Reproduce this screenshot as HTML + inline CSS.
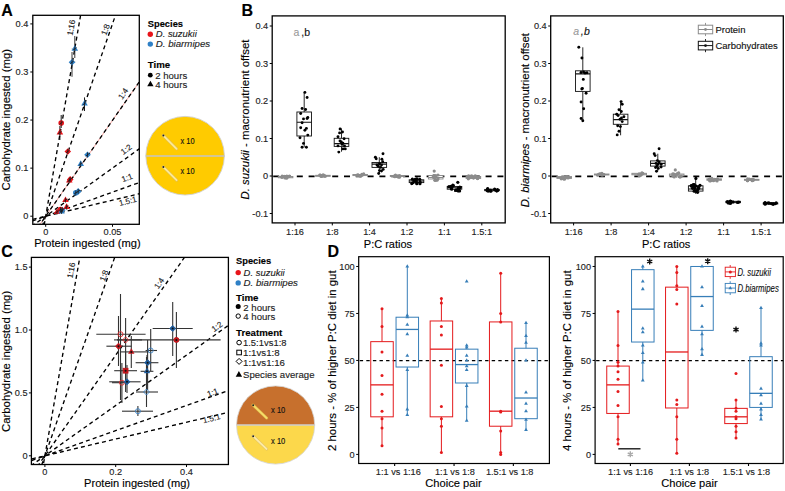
<!DOCTYPE html>
<html><head><meta charset="utf-8"><style>
html,body{margin:0;padding:0;background:#fff;width:785px;height:491px;overflow:hidden}
svg{display:block}
text{font-family:"Liberation Sans", sans-serif}
</style></head><body>
<svg width="785" height="491" viewBox="0 0 785 491">
<rect x="0" y="0" width="785" height="491" fill="#fff"/>
<text x="1.30" y="15.90" font-size="16" text-anchor="start" font-weight="bold" fill="#000" stroke="#000" stroke-width="0.13">A</text>
<clipPath id="clipA"><rect x="32.8" y="15.3" width="106.50000000000001" height="209.0"/></clipPath>
<g clip-path="url(#clipA)">
<line x1="25.70" y1="331.40" x2="245.70" y2="-935.80" stroke="#000" stroke-width="1.35" stroke-dasharray="4,3.2"/>
<line x1="25.70" y1="273.80" x2="245.70" y2="-359.80" stroke="#000" stroke-width="1.35" stroke-dasharray="4,3.2"/>
<line x1="25.70" y1="244.90" x2="245.70" y2="-70.80" stroke="#F08C86" stroke-width="0.8"/>
<line x1="25.70" y1="244.90" x2="245.70" y2="-70.80" stroke="#000" stroke-width="1.35" stroke-dasharray="4,3.2"/>
<line x1="25.70" y1="230.60" x2="245.70" y2="72.20" stroke="#000" stroke-width="1.35" stroke-dasharray="4,3.2"/>
<line x1="25.70" y1="223.40" x2="245.70" y2="144.20" stroke="#000" stroke-width="1.35" stroke-dasharray="4,3.2"/>
<line x1="25.70" y1="221.00" x2="245.70" y2="168.20" stroke="#000" stroke-width="1.35" stroke-dasharray="4,3.2"/>
</g>
<rect x="32.80" y="15.30" width="106.50" height="209.00" fill="none" stroke="#000" stroke-width="1.3"/>
<line x1="30.30" y1="216.20" x2="32.80" y2="216.20" stroke="#000" stroke-width="1"/>
<text x="28.30" y="219.40" font-size="9.2" text-anchor="end" fill="#222" stroke="#222" stroke-width="0.13">0</text>
<line x1="30.30" y1="168.13" x2="32.80" y2="168.13" stroke="#000" stroke-width="1"/>
<text x="28.30" y="171.33" font-size="9.2" text-anchor="end" fill="#222" stroke="#222" stroke-width="0.13">0.1</text>
<line x1="30.30" y1="120.06" x2="32.80" y2="120.06" stroke="#000" stroke-width="1"/>
<text x="28.30" y="123.26" font-size="9.2" text-anchor="end" fill="#222" stroke="#222" stroke-width="0.13">0.2</text>
<line x1="30.30" y1="71.99" x2="32.80" y2="71.99" stroke="#000" stroke-width="1"/>
<text x="28.30" y="75.19" font-size="9.2" text-anchor="end" fill="#222" stroke="#222" stroke-width="0.13">0.3</text>
<line x1="30.30" y1="23.92" x2="32.80" y2="23.92" stroke="#000" stroke-width="1"/>
<text x="28.30" y="27.12" font-size="9.2" text-anchor="end" fill="#222" stroke="#222" stroke-width="0.13">0.4</text>
<line x1="45.70" y1="224.30" x2="45.70" y2="226.80" stroke="#000" stroke-width="1"/>
<text x="45.70" y="234.80" font-size="9.2" text-anchor="middle" fill="#222" stroke="#222" stroke-width="0.13">0</text>
<line x1="112.50" y1="224.30" x2="112.50" y2="226.80" stroke="#000" stroke-width="1"/>
<text x="112.50" y="234.80" font-size="9.2" text-anchor="middle" fill="#222" stroke="#222" stroke-width="0.13">0.05</text>
<text x="34.20" y="247.30" font-size="11.1" text-anchor="start" fill="#000" stroke="#000" stroke-width="0.13" textLength="106.4" lengthAdjust="spacingAndGlyphs">Protein ingested (mg)</text>
<text x="10.30" y="190.50" font-size="11.4" text-anchor="start" fill="#000" stroke="#000" stroke-width="0.13" transform="rotate(-90 10.3 190.5)" textLength="141.5" lengthAdjust="spacingAndGlyphs">Carbohydrate ingested (mg)</text>
<text transform="translate(71.10 27.60) rotate(-80)" x="0" y="2.92" font-size="8.1" text-anchor="middle" fill="#222" stroke="#222" stroke-width="0.13">1:16</text>
<text transform="translate(105.40 29.60) rotate(-71)" x="0" y="2.92" font-size="8.1" text-anchor="middle" fill="#222" stroke="#222" stroke-width="0.13">1:8</text>
<text transform="translate(123.00 93.60) rotate(-55)" x="0" y="2.92" font-size="8.1" text-anchor="middle" fill="#222" stroke="#222" stroke-width="0.13">1:4</text>
<text transform="translate(126.20 149.30) rotate(-36)" x="0" y="2.92" font-size="8.1" text-anchor="middle" fill="#222" stroke="#222" stroke-width="0.13">1:2</text>
<text transform="translate(127.00 177.70) rotate(-20)" x="0" y="2.92" font-size="8.1" text-anchor="middle" fill="#222" stroke="#222" stroke-width="0.13">1:1</text>
<text transform="translate(127.80 201.00) rotate(-14)" x="0" y="2.92" font-size="8.1" text-anchor="middle" fill="#222" stroke="#222" stroke-width="0.13">1.5:1</text>
<line x1="72.00" y1="52.00" x2="72.00" y2="76.80" stroke="#222" stroke-width="0.9"/>
<line x1="74.80" y1="36.00" x2="74.80" y2="58.00" stroke="#222" stroke-width="0.9"/>
<line x1="71.70" y1="49.00" x2="75.30" y2="49.00" stroke="#777" stroke-width="0.8"/>
<line x1="71.70" y1="62.00" x2="75.30" y2="62.00" stroke="#777" stroke-width="0.8"/>
<line x1="84.50" y1="97.40" x2="84.50" y2="111.00" stroke="#000" stroke-width="0.9"/>
<line x1="61.20" y1="115.00" x2="61.20" y2="128.00" stroke="#000" stroke-width="0.9"/>
<line x1="59.90" y1="126.00" x2="59.90" y2="140.00" stroke="#000" stroke-width="0.9"/>
<path d="M71.50,50.71 L78.10,50.71 L74.80,44.99 Z" fill="#2F80C6" stroke="none" stroke-width="1"/>
<path d="M72.00,59.00 L75.30,62.30 L72.00,65.60 L68.70,62.30 Z" fill="#2F80C6" stroke="none" stroke-width="1"/>
<path d="M81.20,105.61 L87.80,105.61 L84.50,99.89 Z" fill="#2F80C6" stroke="none" stroke-width="1"/>
<circle cx="61.20" cy="123.00" r="2.8" fill="#E8141A" stroke="none" stroke-width="1"/>
<path d="M56.60,134.51 L63.20,134.51 L59.90,128.79 Z" fill="#E8141A" stroke="none" stroke-width="1"/>
<path d="M67.80,148.20 L71.10,151.50 L67.80,154.80 L64.50,151.50 Z" fill="#E8141A" stroke="none" stroke-width="1"/>
<path d="M70.20,176.10 L73.50,179.40 L70.20,182.70 L66.90,179.40 Z" fill="#E8141A" stroke="none" stroke-width="1"/>
<path d="M66.00,182.41 L72.60,182.41 L69.30,176.69 Z" fill="#E8141A" stroke="none" stroke-width="1"/>
<path d="M87.50,151.50 L90.80,154.80 L87.50,158.10 L84.20,154.80 Z" fill="#2F80C6" stroke="none" stroke-width="1"/>
<path d="M77.40,165.91 L84.00,165.91 L80.70,160.19 Z" fill="#2F80C6" stroke="none" stroke-width="1"/>
<path d="M62.20,202.11 L68.80,202.11 L65.50,196.39 Z" fill="#E8141A" stroke="none" stroke-width="1"/>
<path d="M78.20,188.10 L81.50,191.40 L78.20,194.70 L74.90,191.40 Z" fill="#2F80C6" stroke="none" stroke-width="1"/>
<circle cx="75.80" cy="192.80" r="2.8" fill="#2F80C6" stroke="none" stroke-width="1"/>
<path d="M53.70,213.91 L60.30,213.91 L57.00,208.19 Z" fill="#E8141A" stroke="none" stroke-width="1"/>
<path d="M62.30,206.70 L65.60,210.00 L62.30,213.30 L59.00,210.00 Z" fill="#2F80C6" stroke="none" stroke-width="1"/>
<path d="M63.30,208.91 L69.90,208.91 L66.60,203.19 Z" fill="#E8141A" stroke="none" stroke-width="1"/>
<circle cx="60.50" cy="209.50" r="2.8" fill="#E8141A" stroke="none" stroke-width="1"/>
<path d="M58.20,213.41 L64.80,213.41 L61.50,207.69 Z" fill="#2F80C6" stroke="none" stroke-width="1"/>
<line x1="73.00" y1="50.10" x2="76.60" y2="47.50" stroke="#1A1A1A" stroke-width="0.8"/>
<line x1="74.80" y1="46.40" x2="74.80" y2="51.20" stroke="#1A1A1A" stroke-width="0.8"/>
<line x1="70.20" y1="63.60" x2="73.80" y2="61.00" stroke="#1A1A1A" stroke-width="0.8"/>
<line x1="72.00" y1="59.90" x2="72.00" y2="64.70" stroke="#1A1A1A" stroke-width="0.8"/>
<line x1="82.70" y1="105.00" x2="86.30" y2="102.40" stroke="#1A1A1A" stroke-width="0.8"/>
<line x1="84.50" y1="101.30" x2="84.50" y2="106.10" stroke="#1A1A1A" stroke-width="0.8"/>
<line x1="59.40" y1="124.30" x2="63.00" y2="121.70" stroke="#1A1A1A" stroke-width="0.8"/>
<line x1="61.20" y1="120.60" x2="61.20" y2="125.40" stroke="#1A1A1A" stroke-width="0.8"/>
<line x1="58.10" y1="133.90" x2="61.70" y2="131.30" stroke="#1A1A1A" stroke-width="0.8"/>
<line x1="59.90" y1="130.20" x2="59.90" y2="135.00" stroke="#1A1A1A" stroke-width="0.8"/>
<line x1="66.00" y1="152.80" x2="69.60" y2="150.20" stroke="#1A1A1A" stroke-width="0.8"/>
<line x1="67.80" y1="149.10" x2="67.80" y2="153.90" stroke="#1A1A1A" stroke-width="0.8"/>
<line x1="68.40" y1="180.70" x2="72.00" y2="178.10" stroke="#1A1A1A" stroke-width="0.8"/>
<line x1="70.20" y1="177.00" x2="70.20" y2="181.80" stroke="#1A1A1A" stroke-width="0.8"/>
<line x1="67.50" y1="181.80" x2="71.10" y2="179.20" stroke="#1A1A1A" stroke-width="0.8"/>
<line x1="69.30" y1="178.10" x2="69.30" y2="182.90" stroke="#1A1A1A" stroke-width="0.8"/>
<line x1="85.70" y1="156.10" x2="89.30" y2="153.50" stroke="#1A1A1A" stroke-width="0.8"/>
<line x1="87.50" y1="152.40" x2="87.50" y2="157.20" stroke="#1A1A1A" stroke-width="0.8"/>
<line x1="78.90" y1="165.30" x2="82.50" y2="162.70" stroke="#1A1A1A" stroke-width="0.8"/>
<line x1="80.70" y1="161.60" x2="80.70" y2="166.40" stroke="#1A1A1A" stroke-width="0.8"/>
<line x1="63.70" y1="201.50" x2="67.30" y2="198.90" stroke="#1A1A1A" stroke-width="0.8"/>
<line x1="65.50" y1="197.80" x2="65.50" y2="202.60" stroke="#1A1A1A" stroke-width="0.8"/>
<line x1="76.40" y1="192.70" x2="80.00" y2="190.10" stroke="#1A1A1A" stroke-width="0.8"/>
<line x1="78.20" y1="189.00" x2="78.20" y2="193.80" stroke="#1A1A1A" stroke-width="0.8"/>
<line x1="74.00" y1="194.10" x2="77.60" y2="191.50" stroke="#1A1A1A" stroke-width="0.8"/>
<line x1="75.80" y1="190.40" x2="75.80" y2="195.20" stroke="#1A1A1A" stroke-width="0.8"/>
<line x1="55.20" y1="213.30" x2="58.80" y2="210.70" stroke="#1A1A1A" stroke-width="0.8"/>
<line x1="57.00" y1="209.60" x2="57.00" y2="214.40" stroke="#1A1A1A" stroke-width="0.8"/>
<line x1="60.50" y1="211.30" x2="64.10" y2="208.70" stroke="#1A1A1A" stroke-width="0.8"/>
<line x1="62.30" y1="207.60" x2="62.30" y2="212.40" stroke="#1A1A1A" stroke-width="0.8"/>
<line x1="64.80" y1="208.30" x2="68.40" y2="205.70" stroke="#1A1A1A" stroke-width="0.8"/>
<line x1="66.60" y1="204.60" x2="66.60" y2="209.40" stroke="#1A1A1A" stroke-width="0.8"/>
<line x1="58.70" y1="210.80" x2="62.30" y2="208.20" stroke="#1A1A1A" stroke-width="0.8"/>
<line x1="60.50" y1="207.10" x2="60.50" y2="211.90" stroke="#1A1A1A" stroke-width="0.8"/>
<line x1="59.70" y1="212.80" x2="63.30" y2="210.20" stroke="#1A1A1A" stroke-width="0.8"/>
<line x1="61.50" y1="209.10" x2="61.50" y2="213.90" stroke="#1A1A1A" stroke-width="0.8"/>
<text x="147.80" y="26.70" font-size="9.7" text-anchor="start" font-weight="bold" fill="#000" stroke="#000" stroke-width="0.13" textLength="35.2" lengthAdjust="spacingAndGlyphs">Species</text>
<circle cx="150.30" cy="34.20" r="2.7" fill="#E8141A" stroke="none" stroke-width="1"/>
<text x="155.80" y="37.40" font-size="9.7" text-anchor="start" font-style="italic" fill="#222" stroke="#222" stroke-width="0.13" textLength="41.0" lengthAdjust="spacingAndGlyphs">D. suzukii</text>
<circle cx="150.30" cy="44.10" r="2.7" fill="#2F80C6" stroke="none" stroke-width="1"/>
<text x="155.80" y="47.30" font-size="9.7" text-anchor="start" font-style="italic" fill="#222" stroke="#222" stroke-width="0.13">D. biarmipes</text>
<text x="147.80" y="68.30" font-size="9.7" text-anchor="start" font-weight="bold" fill="#000" stroke="#000" stroke-width="0.13">Time</text>
<circle cx="150.30" cy="75.20" r="2.4" fill="#000" stroke="none" stroke-width="1"/>
<text x="155.20" y="78.60" font-size="9.7" text-anchor="start" fill="#222" stroke="#222" stroke-width="0.13" textLength="32.0" lengthAdjust="spacingAndGlyphs">2 hours</text>
<path d="M147.25,86.22 L153.55,86.22 L150.40,80.76 Z" fill="#000" stroke="none" stroke-width="1"/>
<text x="155.20" y="87.60" font-size="9.7" text-anchor="start" fill="#222" stroke="#222" stroke-width="0.13" textLength="32.0" lengthAdjust="spacingAndGlyphs">4 hours</text>
<circle cx="185.1" cy="155.7" r="39.3" fill="#FFCB00" stroke="#D0D0D0" stroke-width="0.9"/>
<line x1="145.80" y1="156.00" x2="224.40" y2="156.00" stroke="#C4C4C4" stroke-width="1.7"/>
<line x1="163.20" y1="135.40" x2="176.60" y2="148.80" stroke="#E2BE48" stroke-width="3.0" stroke-linecap="round"/>
<line x1="163.20" y1="135.40" x2="176.60" y2="148.80" stroke="#FCEA98" stroke-width="1.8" stroke-linecap="round"/>
<circle cx="163.40" cy="135.60" r="1.0" fill="#222" stroke="none" stroke-width="1"/>
<text x="180.60" y="143.70" font-size="8.2" text-anchor="start" fill="#111" stroke="#111" stroke-width="0.13" textLength="14.0" lengthAdjust="spacingAndGlyphs">x 10</text>
<line x1="163.20" y1="166.80" x2="176.60" y2="180.20" stroke="#E2BE48" stroke-width="3.0" stroke-linecap="round"/>
<line x1="163.20" y1="166.80" x2="176.60" y2="180.20" stroke="#FCEA98" stroke-width="1.8" stroke-linecap="round"/>
<circle cx="163.40" cy="167.00" r="1.0" fill="#222" stroke="none" stroke-width="1"/>
<text x="180.60" y="174.40" font-size="8.2" text-anchor="start" fill="#111" stroke="#111" stroke-width="0.13" textLength="14.0" lengthAdjust="spacingAndGlyphs">x 10</text>
<text x="241.40" y="15.90" font-size="16" text-anchor="start" font-weight="bold" fill="#000" stroke="#000" stroke-width="0.13">B</text>
<clipPath id="clipB0"><rect x="272.2" y="15.9" width="233.0" height="207.0"/></clipPath>
<g clip-path="url(#clipB0)">
<line x1="273.20" y1="176.30" x2="505.20" y2="176.30" stroke="#000" stroke-width="1.7" stroke-dasharray="6,5.8"/>
<line x1="285.60" y1="176.00" x2="285.60" y2="176.50" stroke="#8A8A8A" stroke-width="0.9"/>
<line x1="285.60" y1="177.80" x2="285.60" y2="178.50" stroke="#8A8A8A" stroke-width="0.9"/>
<rect x="278.30" y="176.50" width="14.60" height="1.30" fill="#fff" stroke="#8A8A8A" stroke-width="0.9"/>
<line x1="278.30" y1="177.00" x2="292.90" y2="177.00" stroke="#8A8A8A" stroke-width="1.08"/>
<circle cx="284.17" cy="176.36" r="1.6" fill="#8C8C8C" stroke="none" stroke-width="1"/>
<circle cx="286.82" cy="176.17" r="1.6" fill="#8C8C8C" stroke="none" stroke-width="1"/>
<circle cx="285.89" cy="176.88" r="1.6" fill="#8C8C8C" stroke="none" stroke-width="1"/>
<circle cx="282.02" cy="177.22" r="1.6" fill="#8C8C8C" stroke="none" stroke-width="1"/>
<circle cx="281.85" cy="177.04" r="1.6" fill="#8C8C8C" stroke="none" stroke-width="1"/>
<circle cx="282.12" cy="176.22" r="1.6" fill="#8C8C8C" stroke="none" stroke-width="1"/>
<circle cx="284.99" cy="177.98" r="1.6" fill="#8C8C8C" stroke="none" stroke-width="1"/>
<circle cx="282.55" cy="176.54" r="1.6" fill="#8C8C8C" stroke="none" stroke-width="1"/>
<circle cx="286.63" cy="178.27" r="1.6" fill="#8C8C8C" stroke="none" stroke-width="1"/>
<circle cx="286.22" cy="176.95" r="1.6" fill="#8C8C8C" stroke="none" stroke-width="1"/>
<circle cx="289.46" cy="176.11" r="1.6" fill="#8C8C8C" stroke="none" stroke-width="1"/>
<circle cx="288.50" cy="176.70" r="1.6" fill="#8C8C8C" stroke="none" stroke-width="1"/>
<line x1="322.90" y1="175.00" x2="322.90" y2="175.30" stroke="#8A8A8A" stroke-width="0.9"/>
<line x1="322.90" y1="176.30" x2="322.90" y2="176.80" stroke="#8A8A8A" stroke-width="0.9"/>
<rect x="315.60" y="175.30" width="14.60" height="1.00" fill="#fff" stroke="#8A8A8A" stroke-width="0.9"/>
<line x1="315.60" y1="175.80" x2="330.20" y2="175.80" stroke="#8A8A8A" stroke-width="1.08"/>
<circle cx="320.34" cy="175.04" r="1.6" fill="#8C8C8C" stroke="none" stroke-width="1"/>
<circle cx="321.52" cy="176.43" r="1.6" fill="#8C8C8C" stroke="none" stroke-width="1"/>
<circle cx="320.60" cy="175.96" r="1.6" fill="#8C8C8C" stroke="none" stroke-width="1"/>
<circle cx="323.90" cy="175.54" r="1.6" fill="#8C8C8C" stroke="none" stroke-width="1"/>
<circle cx="323.24" cy="174.93" r="1.6" fill="#8C8C8C" stroke="none" stroke-width="1"/>
<circle cx="319.73" cy="175.21" r="1.6" fill="#8C8C8C" stroke="none" stroke-width="1"/>
<circle cx="324.20" cy="175.66" r="1.6" fill="#8C8C8C" stroke="none" stroke-width="1"/>
<circle cx="321.56" cy="175.97" r="1.6" fill="#8C8C8C" stroke="none" stroke-width="1"/>
<circle cx="322.56" cy="175.40" r="1.6" fill="#8C8C8C" stroke="none" stroke-width="1"/>
<circle cx="325.02" cy="176.20" r="1.6" fill="#8C8C8C" stroke="none" stroke-width="1"/>
<line x1="360.20" y1="174.00" x2="360.20" y2="174.50" stroke="#8A8A8A" stroke-width="0.9"/>
<line x1="360.20" y1="175.60" x2="360.20" y2="176.50" stroke="#8A8A8A" stroke-width="0.9"/>
<rect x="352.90" y="174.50" width="14.60" height="1.10" fill="#fff" stroke="#8A8A8A" stroke-width="0.9"/>
<line x1="352.90" y1="175.00" x2="367.50" y2="175.00" stroke="#8A8A8A" stroke-width="1.08"/>
<circle cx="358.36" cy="175.21" r="1.6" fill="#8C8C8C" stroke="none" stroke-width="1"/>
<circle cx="360.38" cy="176.05" r="1.6" fill="#8C8C8C" stroke="none" stroke-width="1"/>
<circle cx="361.85" cy="174.41" r="1.6" fill="#8C8C8C" stroke="none" stroke-width="1"/>
<circle cx="363.66" cy="173.93" r="1.6" fill="#8C8C8C" stroke="none" stroke-width="1"/>
<circle cx="359.61" cy="175.72" r="1.6" fill="#8C8C8C" stroke="none" stroke-width="1"/>
<circle cx="357.69" cy="174.97" r="1.6" fill="#8C8C8C" stroke="none" stroke-width="1"/>
<circle cx="356.88" cy="175.47" r="1.6" fill="#8C8C8C" stroke="none" stroke-width="1"/>
<circle cx="362.10" cy="175.20" r="1.6" fill="#8C8C8C" stroke="none" stroke-width="1"/>
<circle cx="362.90" cy="174.48" r="1.6" fill="#8C8C8C" stroke="none" stroke-width="1"/>
<circle cx="361.61" cy="175.26" r="1.6" fill="#8C8C8C" stroke="none" stroke-width="1"/>
<line x1="397.60" y1="175.00" x2="397.60" y2="175.50" stroke="#8A8A8A" stroke-width="0.9"/>
<line x1="397.60" y1="176.50" x2="397.60" y2="177.00" stroke="#8A8A8A" stroke-width="0.9"/>
<rect x="390.30" y="175.50" width="14.60" height="1.00" fill="#fff" stroke="#8A8A8A" stroke-width="0.9"/>
<line x1="390.30" y1="176.00" x2="404.90" y2="176.00" stroke="#8A8A8A" stroke-width="1.08"/>
<circle cx="398.10" cy="175.89" r="1.6" fill="#8C8C8C" stroke="none" stroke-width="1"/>
<circle cx="399.74" cy="177.07" r="1.6" fill="#8C8C8C" stroke="none" stroke-width="1"/>
<circle cx="397.44" cy="176.39" r="1.6" fill="#8C8C8C" stroke="none" stroke-width="1"/>
<circle cx="394.83" cy="176.48" r="1.6" fill="#8C8C8C" stroke="none" stroke-width="1"/>
<circle cx="398.53" cy="177.18" r="1.6" fill="#8C8C8C" stroke="none" stroke-width="1"/>
<circle cx="399.63" cy="175.48" r="1.6" fill="#8C8C8C" stroke="none" stroke-width="1"/>
<circle cx="396.88" cy="176.40" r="1.6" fill="#8C8C8C" stroke="none" stroke-width="1"/>
<circle cx="394.59" cy="175.91" r="1.6" fill="#8C8C8C" stroke="none" stroke-width="1"/>
<circle cx="395.51" cy="175.08" r="1.6" fill="#8C8C8C" stroke="none" stroke-width="1"/>
<circle cx="394.82" cy="176.64" r="1.6" fill="#8C8C8C" stroke="none" stroke-width="1"/>
<line x1="435.70" y1="174.00" x2="435.70" y2="175.50" stroke="#8A8A8A" stroke-width="0.9"/>
<line x1="435.70" y1="179.00" x2="435.70" y2="181.00" stroke="#8A8A8A" stroke-width="0.9"/>
<rect x="428.40" y="175.50" width="14.60" height="3.50" fill="#fff" stroke="#8A8A8A" stroke-width="0.9"/>
<line x1="428.40" y1="177.50" x2="443.00" y2="177.50" stroke="#8A8A8A" stroke-width="1.08"/>
<circle cx="433.83" cy="175.68" r="1.6" fill="#8C8C8C" stroke="none" stroke-width="1"/>
<circle cx="435.15" cy="180.17" r="1.6" fill="#8C8C8C" stroke="none" stroke-width="1"/>
<circle cx="433.59" cy="177.13" r="1.6" fill="#8C8C8C" stroke="none" stroke-width="1"/>
<circle cx="435.95" cy="180.26" r="1.6" fill="#8C8C8C" stroke="none" stroke-width="1"/>
<circle cx="437.31" cy="180.12" r="1.6" fill="#8C8C8C" stroke="none" stroke-width="1"/>
<circle cx="434.58" cy="176.89" r="1.6" fill="#8C8C8C" stroke="none" stroke-width="1"/>
<circle cx="434.99" cy="180.27" r="1.6" fill="#8C8C8C" stroke="none" stroke-width="1"/>
<circle cx="438.01" cy="174.99" r="1.6" fill="#8C8C8C" stroke="none" stroke-width="1"/>
<circle cx="434.07" cy="175.57" r="1.6" fill="#8C8C8C" stroke="none" stroke-width="1"/>
<circle cx="434.36" cy="177.39" r="1.6" fill="#8C8C8C" stroke="none" stroke-width="1"/>
<circle cx="436.15" cy="175.79" r="1.6" fill="#8C8C8C" stroke="none" stroke-width="1"/>
<circle cx="433.20" cy="176.92" r="1.6" fill="#8C8C8C" stroke="none" stroke-width="1"/>
<circle cx="435.04" cy="177.98" r="1.6" fill="#8C8C8C" stroke="none" stroke-width="1"/>
<circle cx="437.98" cy="178.87" r="1.6" fill="#8C8C8C" stroke="none" stroke-width="1"/>
<circle cx="434.20" cy="171.10" r="1.6" fill="#8C8C8C" stroke="none" stroke-width="1"/>
<line x1="473.40" y1="175.50" x2="473.40" y2="176.50" stroke="#8A8A8A" stroke-width="0.9"/>
<line x1="473.40" y1="178.50" x2="473.40" y2="179.50" stroke="#8A8A8A" stroke-width="0.9"/>
<rect x="466.10" y="176.50" width="14.60" height="2.00" fill="#fff" stroke="#8A8A8A" stroke-width="0.9"/>
<line x1="466.10" y1="177.50" x2="480.70" y2="177.50" stroke="#8A8A8A" stroke-width="1.08"/>
<circle cx="473.57" cy="177.92" r="1.6" fill="#8C8C8C" stroke="none" stroke-width="1"/>
<circle cx="475.30" cy="175.89" r="1.6" fill="#8C8C8C" stroke="none" stroke-width="1"/>
<circle cx="477.71" cy="178.51" r="1.6" fill="#8C8C8C" stroke="none" stroke-width="1"/>
<circle cx="477.44" cy="178.57" r="1.6" fill="#8C8C8C" stroke="none" stroke-width="1"/>
<circle cx="472.24" cy="177.14" r="1.6" fill="#8C8C8C" stroke="none" stroke-width="1"/>
<circle cx="469.12" cy="177.98" r="1.6" fill="#8C8C8C" stroke="none" stroke-width="1"/>
<circle cx="468.67" cy="175.94" r="1.6" fill="#8C8C8C" stroke="none" stroke-width="1"/>
<circle cx="470.25" cy="176.28" r="1.6" fill="#8C8C8C" stroke="none" stroke-width="1"/>
<circle cx="471.67" cy="175.89" r="1.6" fill="#8C8C8C" stroke="none" stroke-width="1"/>
<circle cx="468.00" cy="176.24" r="1.6" fill="#8C8C8C" stroke="none" stroke-width="1"/>
<circle cx="469.10" cy="177.01" r="1.6" fill="#8C8C8C" stroke="none" stroke-width="1"/>
<circle cx="468.28" cy="178.85" r="1.6" fill="#8C8C8C" stroke="none" stroke-width="1"/>
<circle cx="474.63" cy="176.23" r="1.6" fill="#8C8C8C" stroke="none" stroke-width="1"/>
<circle cx="470.72" cy="176.95" r="1.6" fill="#8C8C8C" stroke="none" stroke-width="1"/>
<line x1="304.20" y1="92.20" x2="304.20" y2="112.00" stroke="#111" stroke-width="0.9"/>
<line x1="304.20" y1="136.00" x2="304.20" y2="147.20" stroke="#111" stroke-width="0.9"/>
<rect x="296.90" y="112.00" width="14.60" height="24.00" fill="#fff" stroke="#111" stroke-width="0.9"/>
<line x1="296.90" y1="122.30" x2="311.50" y2="122.30" stroke="#111" stroke-width="1.08"/>
<circle cx="304.90" cy="92.40" r="1.45" fill="#000" stroke="none" stroke-width="1"/>
<circle cx="307.10" cy="97.50" r="1.45" fill="#000" stroke="none" stroke-width="1"/>
<circle cx="302.10" cy="108.50" r="1.45" fill="#000" stroke="none" stroke-width="1"/>
<circle cx="305.60" cy="109.50" r="1.45" fill="#000" stroke="none" stroke-width="1"/>
<circle cx="300.70" cy="113.50" r="1.45" fill="#000" stroke="none" stroke-width="1"/>
<circle cx="303.50" cy="118.90" r="1.45" fill="#000" stroke="none" stroke-width="1"/>
<circle cx="307.10" cy="118.50" r="1.45" fill="#000" stroke="none" stroke-width="1"/>
<circle cx="307.80" cy="117.50" r="1.45" fill="#000" stroke="none" stroke-width="1"/>
<circle cx="302.10" cy="122.70" r="1.45" fill="#000" stroke="none" stroke-width="1"/>
<circle cx="300.70" cy="127.70" r="1.45" fill="#000" stroke="none" stroke-width="1"/>
<circle cx="306.40" cy="128.40" r="1.45" fill="#000" stroke="none" stroke-width="1"/>
<circle cx="304.90" cy="130.30" r="1.45" fill="#000" stroke="none" stroke-width="1"/>
<circle cx="300.00" cy="137.70" r="1.45" fill="#000" stroke="none" stroke-width="1"/>
<circle cx="307.80" cy="135.10" r="1.45" fill="#000" stroke="none" stroke-width="1"/>
<circle cx="303.50" cy="143.40" r="1.45" fill="#000" stroke="none" stroke-width="1"/>
<circle cx="302.10" cy="147.20" r="1.45" fill="#000" stroke="none" stroke-width="1"/>
<circle cx="306.40" cy="147.20" r="1.45" fill="#000" stroke="none" stroke-width="1"/>
<line x1="341.50" y1="128.50" x2="341.50" y2="138.30" stroke="#111" stroke-width="0.9"/>
<line x1="341.50" y1="146.40" x2="341.50" y2="151.70" stroke="#111" stroke-width="0.9"/>
<rect x="334.20" y="138.30" width="14.60" height="8.10" fill="#fff" stroke="#111" stroke-width="0.9"/>
<line x1="334.20" y1="143.60" x2="348.80" y2="143.60" stroke="#111" stroke-width="1.08"/>
<circle cx="340.10" cy="129.00" r="1.45" fill="#000" stroke="none" stroke-width="1"/>
<circle cx="342.50" cy="132.00" r="1.45" fill="#000" stroke="none" stroke-width="1"/>
<circle cx="339.60" cy="132.90" r="1.45" fill="#000" stroke="none" stroke-width="1"/>
<circle cx="338.00" cy="136.70" r="1.45" fill="#000" stroke="none" stroke-width="1"/>
<circle cx="344.10" cy="138.70" r="1.45" fill="#000" stroke="none" stroke-width="1"/>
<circle cx="341.30" cy="142.00" r="1.45" fill="#000" stroke="none" stroke-width="1"/>
<circle cx="342.90" cy="143.20" r="1.45" fill="#000" stroke="none" stroke-width="1"/>
<circle cx="342.10" cy="144.40" r="1.45" fill="#000" stroke="none" stroke-width="1"/>
<circle cx="338.00" cy="145.90" r="1.45" fill="#000" stroke="none" stroke-width="1"/>
<circle cx="342.90" cy="148.90" r="1.45" fill="#000" stroke="none" stroke-width="1"/>
<circle cx="345.30" cy="148.90" r="1.45" fill="#000" stroke="none" stroke-width="1"/>
<circle cx="338.80" cy="152.10" r="1.45" fill="#000" stroke="none" stroke-width="1"/>
<circle cx="344.50" cy="146.00" r="1.45" fill="#000" stroke="none" stroke-width="1"/>
<circle cx="340.00" cy="141.00" r="1.45" fill="#000" stroke="none" stroke-width="1"/>
<line x1="379.30" y1="157.20" x2="379.30" y2="162.50" stroke="#111" stroke-width="0.9"/>
<line x1="379.30" y1="167.40" x2="379.30" y2="173.50" stroke="#111" stroke-width="0.9"/>
<rect x="372.00" y="162.50" width="14.60" height="4.90" fill="#fff" stroke="#111" stroke-width="0.9"/>
<line x1="372.00" y1="164.10" x2="386.60" y2="164.10" stroke="#111" stroke-width="1.08"/>
<circle cx="383.00" cy="153.80" r="1.45" fill="#000" stroke="none" stroke-width="1"/>
<circle cx="375.40" cy="157.20" r="1.45" fill="#000" stroke="none" stroke-width="1"/>
<circle cx="376.20" cy="158.80" r="1.45" fill="#000" stroke="none" stroke-width="1"/>
<circle cx="381.90" cy="159.20" r="1.45" fill="#000" stroke="none" stroke-width="1"/>
<circle cx="382.70" cy="161.70" r="1.45" fill="#000" stroke="none" stroke-width="1"/>
<circle cx="379.50" cy="163.70" r="1.45" fill="#000" stroke="none" stroke-width="1"/>
<circle cx="381.50" cy="164.90" r="1.45" fill="#000" stroke="none" stroke-width="1"/>
<circle cx="378.30" cy="166.20" r="1.45" fill="#000" stroke="none" stroke-width="1"/>
<circle cx="380.70" cy="167.40" r="1.45" fill="#000" stroke="none" stroke-width="1"/>
<circle cx="383.20" cy="169.40" r="1.45" fill="#000" stroke="none" stroke-width="1"/>
<circle cx="379.50" cy="170.60" r="1.45" fill="#000" stroke="none" stroke-width="1"/>
<circle cx="381.50" cy="171.00" r="1.45" fill="#000" stroke="none" stroke-width="1"/>
<circle cx="378.70" cy="173.50" r="1.45" fill="#000" stroke="none" stroke-width="1"/>
<circle cx="377.00" cy="165.00" r="1.45" fill="#000" stroke="none" stroke-width="1"/>
<line x1="416.50" y1="178.00" x2="416.50" y2="179.80" stroke="#111" stroke-width="0.9"/>
<line x1="416.50" y1="182.60" x2="416.50" y2="184.50" stroke="#111" stroke-width="0.9"/>
<rect x="409.20" y="179.80" width="14.60" height="2.80" fill="#fff" stroke="#111" stroke-width="0.9"/>
<line x1="409.20" y1="181.00" x2="423.80" y2="181.00" stroke="#111" stroke-width="1.08"/>
<circle cx="415.16" cy="179.24" r="1.6" fill="#000" stroke="none" stroke-width="1"/>
<circle cx="419.95" cy="183.76" r="1.6" fill="#000" stroke="none" stroke-width="1"/>
<circle cx="416.16" cy="181.12" r="1.6" fill="#000" stroke="none" stroke-width="1"/>
<circle cx="412.40" cy="179.13" r="1.6" fill="#000" stroke="none" stroke-width="1"/>
<circle cx="414.94" cy="179.98" r="1.6" fill="#000" stroke="none" stroke-width="1"/>
<circle cx="419.76" cy="179.44" r="1.6" fill="#000" stroke="none" stroke-width="1"/>
<circle cx="411.78" cy="183.55" r="1.6" fill="#000" stroke="none" stroke-width="1"/>
<circle cx="416.78" cy="179.36" r="1.6" fill="#000" stroke="none" stroke-width="1"/>
<circle cx="416.93" cy="178.74" r="1.6" fill="#000" stroke="none" stroke-width="1"/>
<circle cx="416.78" cy="183.69" r="1.6" fill="#000" stroke="none" stroke-width="1"/>
<circle cx="420.10" cy="182.22" r="1.6" fill="#000" stroke="none" stroke-width="1"/>
<circle cx="414.14" cy="180.51" r="1.6" fill="#000" stroke="none" stroke-width="1"/>
<circle cx="413.20" cy="182.61" r="1.6" fill="#000" stroke="none" stroke-width="1"/>
<circle cx="416.82" cy="182.65" r="1.6" fill="#000" stroke="none" stroke-width="1"/>
<line x1="454.50" y1="184.50" x2="454.50" y2="186.50" stroke="#111" stroke-width="0.9"/>
<line x1="454.50" y1="189.20" x2="454.50" y2="191.80" stroke="#111" stroke-width="0.9"/>
<rect x="447.20" y="186.50" width="14.60" height="2.70" fill="#fff" stroke="#111" stroke-width="0.9"/>
<line x1="447.20" y1="187.80" x2="461.80" y2="187.80" stroke="#111" stroke-width="1.08"/>
<circle cx="452.51" cy="186.34" r="1.6" fill="#000" stroke="none" stroke-width="1"/>
<circle cx="458.14" cy="190.91" r="1.6" fill="#000" stroke="none" stroke-width="1"/>
<circle cx="458.63" cy="189.84" r="1.6" fill="#000" stroke="none" stroke-width="1"/>
<circle cx="458.22" cy="189.44" r="1.6" fill="#000" stroke="none" stroke-width="1"/>
<circle cx="451.30" cy="188.11" r="1.6" fill="#000" stroke="none" stroke-width="1"/>
<circle cx="452.81" cy="185.17" r="1.6" fill="#000" stroke="none" stroke-width="1"/>
<circle cx="448.98" cy="186.68" r="1.6" fill="#000" stroke="none" stroke-width="1"/>
<circle cx="451.68" cy="189.16" r="1.6" fill="#000" stroke="none" stroke-width="1"/>
<circle cx="459.84" cy="187.68" r="1.6" fill="#000" stroke="none" stroke-width="1"/>
<circle cx="459.61" cy="190.93" r="1.6" fill="#000" stroke="none" stroke-width="1"/>
<circle cx="459.82" cy="187.19" r="1.6" fill="#000" stroke="none" stroke-width="1"/>
<circle cx="451.23" cy="186.36" r="1.6" fill="#000" stroke="none" stroke-width="1"/>
<circle cx="450.95" cy="186.23" r="1.6" fill="#000" stroke="none" stroke-width="1"/>
<circle cx="455.95" cy="190.40" r="1.6" fill="#000" stroke="none" stroke-width="1"/>
<circle cx="458.48" cy="187.88" r="1.6" fill="#000" stroke="none" stroke-width="1"/>
<circle cx="456.29" cy="189.80" r="1.6" fill="#000" stroke="none" stroke-width="1"/>
<circle cx="457.80" cy="182.30" r="1.6" fill="#000" stroke="none" stroke-width="1"/>
<line x1="492.00" y1="188.50" x2="492.00" y2="189.40" stroke="#111" stroke-width="0.9"/>
<line x1="492.00" y1="190.70" x2="492.00" y2="191.50" stroke="#111" stroke-width="0.9"/>
<rect x="484.70" y="189.40" width="14.60" height="1.30" fill="#fff" stroke="#111" stroke-width="0.9"/>
<line x1="484.70" y1="190.00" x2="499.30" y2="190.00" stroke="#111" stroke-width="1.08"/>
<circle cx="487.14" cy="190.45" r="1.6" fill="#000" stroke="none" stroke-width="1"/>
<circle cx="496.79" cy="190.79" r="1.6" fill="#000" stroke="none" stroke-width="1"/>
<circle cx="494.93" cy="189.94" r="1.6" fill="#000" stroke="none" stroke-width="1"/>
<circle cx="488.24" cy="190.81" r="1.6" fill="#000" stroke="none" stroke-width="1"/>
<circle cx="490.04" cy="190.84" r="1.6" fill="#000" stroke="none" stroke-width="1"/>
<circle cx="497.52" cy="189.71" r="1.6" fill="#000" stroke="none" stroke-width="1"/>
<circle cx="490.85" cy="191.25" r="1.6" fill="#000" stroke="none" stroke-width="1"/>
<circle cx="494.63" cy="189.08" r="1.6" fill="#000" stroke="none" stroke-width="1"/>
<circle cx="487.64" cy="189.02" r="1.6" fill="#000" stroke="none" stroke-width="1"/>
<circle cx="496.74" cy="190.86" r="1.6" fill="#000" stroke="none" stroke-width="1"/>
<circle cx="487.86" cy="190.91" r="1.6" fill="#000" stroke="none" stroke-width="1"/>
<circle cx="497.62" cy="190.44" r="1.6" fill="#000" stroke="none" stroke-width="1"/>
<circle cx="490.25" cy="190.14" r="1.6" fill="#000" stroke="none" stroke-width="1"/>
<circle cx="487.68" cy="188.64" r="1.6" fill="#000" stroke="none" stroke-width="1"/>
</g>
<rect x="272.20" y="15.90" width="233.00" height="207.00" fill="none" stroke="#000" stroke-width="1.3"/>
<line x1="269.70" y1="213.50" x2="272.20" y2="213.50" stroke="#000" stroke-width="1"/>
<text x="268.20" y="216.70" font-size="9.2" text-anchor="end" fill="#222" stroke="#222" stroke-width="0.13">-0.1</text>
<line x1="269.70" y1="176.00" x2="272.20" y2="176.00" stroke="#000" stroke-width="1"/>
<text x="268.20" y="179.20" font-size="9.2" text-anchor="end" fill="#222" stroke="#222" stroke-width="0.13">0</text>
<line x1="269.70" y1="138.50" x2="272.20" y2="138.50" stroke="#000" stroke-width="1"/>
<text x="268.20" y="141.70" font-size="9.2" text-anchor="end" fill="#222" stroke="#222" stroke-width="0.13">0.1</text>
<line x1="269.70" y1="101.00" x2="272.20" y2="101.00" stroke="#000" stroke-width="1"/>
<text x="268.20" y="104.20" font-size="9.2" text-anchor="end" fill="#222" stroke="#222" stroke-width="0.13">0.2</text>
<line x1="269.70" y1="63.50" x2="272.20" y2="63.50" stroke="#000" stroke-width="1"/>
<text x="268.20" y="66.70" font-size="9.2" text-anchor="end" fill="#222" stroke="#222" stroke-width="0.13">0.3</text>
<line x1="269.70" y1="26.00" x2="272.20" y2="26.00" stroke="#000" stroke-width="1"/>
<text x="268.20" y="29.20" font-size="9.2" text-anchor="end" fill="#222" stroke="#222" stroke-width="0.13">0.4</text>
<line x1="295.00" y1="222.90" x2="295.00" y2="225.40" stroke="#000" stroke-width="1"/>
<text x="295.00" y="234.80" font-size="9.2" text-anchor="middle" fill="#222" stroke="#222" stroke-width="0.13">1:16</text>
<line x1="332.30" y1="222.90" x2="332.30" y2="225.40" stroke="#000" stroke-width="1"/>
<text x="332.30" y="234.80" font-size="9.2" text-anchor="middle" fill="#222" stroke="#222" stroke-width="0.13">1:8</text>
<line x1="369.60" y1="222.90" x2="369.60" y2="225.40" stroke="#000" stroke-width="1"/>
<text x="369.60" y="234.80" font-size="9.2" text-anchor="middle" fill="#222" stroke="#222" stroke-width="0.13">1:4</text>
<line x1="407.00" y1="222.90" x2="407.00" y2="225.40" stroke="#000" stroke-width="1"/>
<text x="407.00" y="234.80" font-size="9.2" text-anchor="middle" fill="#222" stroke="#222" stroke-width="0.13">1:2</text>
<line x1="444.40" y1="222.90" x2="444.40" y2="225.40" stroke="#000" stroke-width="1"/>
<text x="444.40" y="234.80" font-size="9.2" text-anchor="middle" fill="#222" stroke="#222" stroke-width="0.13">1:1</text>
<line x1="481.80" y1="222.90" x2="481.80" y2="225.40" stroke="#000" stroke-width="1"/>
<text x="481.80" y="234.80" font-size="9.2" text-anchor="middle" fill="#222" stroke="#222" stroke-width="0.13">1.5:1</text>
<text x="363.80" y="248.20" font-size="11.1" text-anchor="start" fill="#000" stroke="#000" stroke-width="0.13" textLength="48.3" lengthAdjust="spacingAndGlyphs">P:C ratios</text>
<text transform="translate(249.3 199.45) rotate(-90)" font-size="11.4" fill="#000" stroke="#000" stroke-width="0.13" textLength="159.9" lengthAdjust="spacingAndGlyphs"><tspan font-style="italic">D. suzukii</tspan> - macronutrient offset</text>
<clipPath id="clipB1"><rect x="550.7" y="15.9" width="232.5999999999999" height="207.0"/></clipPath>
<g clip-path="url(#clipB1)">
<line x1="551.70" y1="176.30" x2="783.30" y2="176.30" stroke="#000" stroke-width="1.7" stroke-dasharray="6,5.8"/>
<line x1="564.20" y1="175.50" x2="564.20" y2="176.50" stroke="#8A8A8A" stroke-width="0.9"/>
<line x1="564.20" y1="178.50" x2="564.20" y2="179.50" stroke="#8A8A8A" stroke-width="0.9"/>
<rect x="556.90" y="176.50" width="14.60" height="2.00" fill="#fff" stroke="#8A8A8A" stroke-width="0.9"/>
<line x1="556.90" y1="177.50" x2="571.50" y2="177.50" stroke="#8A8A8A" stroke-width="1.08"/>
<circle cx="568.01" cy="177.98" r="1.6" fill="#8C8C8C" stroke="none" stroke-width="1"/>
<circle cx="564.42" cy="178.89" r="1.6" fill="#8C8C8C" stroke="none" stroke-width="1"/>
<circle cx="563.66" cy="178.69" r="1.6" fill="#8C8C8C" stroke="none" stroke-width="1"/>
<circle cx="566.84" cy="176.58" r="1.6" fill="#8C8C8C" stroke="none" stroke-width="1"/>
<circle cx="562.19" cy="176.84" r="1.6" fill="#8C8C8C" stroke="none" stroke-width="1"/>
<circle cx="562.10" cy="177.78" r="1.6" fill="#8C8C8C" stroke="none" stroke-width="1"/>
<circle cx="562.25" cy="177.24" r="1.6" fill="#8C8C8C" stroke="none" stroke-width="1"/>
<circle cx="561.21" cy="178.81" r="1.6" fill="#8C8C8C" stroke="none" stroke-width="1"/>
<circle cx="563.02" cy="177.37" r="1.6" fill="#8C8C8C" stroke="none" stroke-width="1"/>
<circle cx="564.88" cy="178.79" r="1.6" fill="#8C8C8C" stroke="none" stroke-width="1"/>
<circle cx="563.56" cy="178.84" r="1.6" fill="#8C8C8C" stroke="none" stroke-width="1"/>
<circle cx="564.21" cy="177.60" r="1.6" fill="#8C8C8C" stroke="none" stroke-width="1"/>
<line x1="601.70" y1="173.50" x2="601.70" y2="174.00" stroke="#8A8A8A" stroke-width="0.9"/>
<line x1="601.70" y1="175.00" x2="601.70" y2="175.50" stroke="#8A8A8A" stroke-width="0.9"/>
<rect x="594.40" y="174.00" width="14.60" height="1.00" fill="#fff" stroke="#8A8A8A" stroke-width="0.9"/>
<line x1="594.40" y1="174.50" x2="609.00" y2="174.50" stroke="#8A8A8A" stroke-width="1.08"/>
<circle cx="601.89" cy="173.34" r="1.6" fill="#8C8C8C" stroke="none" stroke-width="1"/>
<circle cx="601.22" cy="173.74" r="1.6" fill="#8C8C8C" stroke="none" stroke-width="1"/>
<circle cx="597.68" cy="175.22" r="1.6" fill="#8C8C8C" stroke="none" stroke-width="1"/>
<circle cx="599.05" cy="174.44" r="1.6" fill="#8C8C8C" stroke="none" stroke-width="1"/>
<circle cx="603.52" cy="174.64" r="1.6" fill="#8C8C8C" stroke="none" stroke-width="1"/>
<circle cx="600.29" cy="174.54" r="1.6" fill="#8C8C8C" stroke="none" stroke-width="1"/>
<circle cx="602.15" cy="175.18" r="1.6" fill="#8C8C8C" stroke="none" stroke-width="1"/>
<circle cx="598.51" cy="174.64" r="1.6" fill="#8C8C8C" stroke="none" stroke-width="1"/>
<circle cx="599.66" cy="173.96" r="1.6" fill="#8C8C8C" stroke="none" stroke-width="1"/>
<circle cx="603.91" cy="174.52" r="1.6" fill="#8C8C8C" stroke="none" stroke-width="1"/>
<line x1="639.20" y1="172.50" x2="639.20" y2="173.30" stroke="#8A8A8A" stroke-width="0.9"/>
<line x1="639.20" y1="174.80" x2="639.20" y2="175.50" stroke="#8A8A8A" stroke-width="0.9"/>
<rect x="631.90" y="173.30" width="14.60" height="1.50" fill="#fff" stroke="#8A8A8A" stroke-width="0.9"/>
<line x1="631.90" y1="174.00" x2="646.50" y2="174.00" stroke="#8A8A8A" stroke-width="1.08"/>
<circle cx="639.70" cy="174.83" r="1.6" fill="#8C8C8C" stroke="none" stroke-width="1"/>
<circle cx="642.54" cy="173.82" r="1.6" fill="#8C8C8C" stroke="none" stroke-width="1"/>
<circle cx="640.11" cy="174.02" r="1.6" fill="#8C8C8C" stroke="none" stroke-width="1"/>
<circle cx="639.30" cy="174.62" r="1.6" fill="#8C8C8C" stroke="none" stroke-width="1"/>
<circle cx="638.81" cy="174.11" r="1.6" fill="#8C8C8C" stroke="none" stroke-width="1"/>
<circle cx="639.02" cy="175.41" r="1.6" fill="#8C8C8C" stroke="none" stroke-width="1"/>
<circle cx="640.81" cy="175.20" r="1.6" fill="#8C8C8C" stroke="none" stroke-width="1"/>
<circle cx="642.78" cy="173.23" r="1.6" fill="#8C8C8C" stroke="none" stroke-width="1"/>
<circle cx="639.68" cy="175.42" r="1.6" fill="#8C8C8C" stroke="none" stroke-width="1"/>
<circle cx="641.95" cy="172.84" r="1.6" fill="#8C8C8C" stroke="none" stroke-width="1"/>
<line x1="676.70" y1="172.30" x2="676.70" y2="174.00" stroke="#8A8A8A" stroke-width="0.9"/>
<line x1="676.70" y1="176.00" x2="676.70" y2="178.00" stroke="#8A8A8A" stroke-width="0.9"/>
<rect x="669.40" y="174.00" width="14.60" height="2.00" fill="#fff" stroke="#8A8A8A" stroke-width="0.9"/>
<line x1="669.40" y1="175.00" x2="684.00" y2="175.00" stroke="#8A8A8A" stroke-width="1.08"/>
<circle cx="673.29" cy="174.75" r="1.6" fill="#8C8C8C" stroke="none" stroke-width="1"/>
<circle cx="672.85" cy="173.86" r="1.6" fill="#8C8C8C" stroke="none" stroke-width="1"/>
<circle cx="672.86" cy="175.75" r="1.6" fill="#8C8C8C" stroke="none" stroke-width="1"/>
<circle cx="679.26" cy="176.75" r="1.6" fill="#8C8C8C" stroke="none" stroke-width="1"/>
<circle cx="673.59" cy="175.95" r="1.6" fill="#8C8C8C" stroke="none" stroke-width="1"/>
<circle cx="678.14" cy="173.43" r="1.6" fill="#8C8C8C" stroke="none" stroke-width="1"/>
<circle cx="680.15" cy="177.06" r="1.6" fill="#8C8C8C" stroke="none" stroke-width="1"/>
<circle cx="674.18" cy="176.99" r="1.6" fill="#8C8C8C" stroke="none" stroke-width="1"/>
<circle cx="675.78" cy="174.94" r="1.6" fill="#8C8C8C" stroke="none" stroke-width="1"/>
<circle cx="681.11" cy="176.46" r="1.6" fill="#8C8C8C" stroke="none" stroke-width="1"/>
<circle cx="673.65" cy="174.70" r="1.6" fill="#8C8C8C" stroke="none" stroke-width="1"/>
<circle cx="676.84" cy="174.29" r="1.6" fill="#8C8C8C" stroke="none" stroke-width="1"/>
<circle cx="673.96" cy="174.20" r="1.6" fill="#8C8C8C" stroke="none" stroke-width="1"/>
<circle cx="678.70" cy="172.89" r="1.6" fill="#8C8C8C" stroke="none" stroke-width="1"/>
<circle cx="675.30" cy="169.90" r="1.6" fill="#8C8C8C" stroke="none" stroke-width="1"/>
<line x1="714.20" y1="178.00" x2="714.20" y2="178.80" stroke="#8A8A8A" stroke-width="0.9"/>
<line x1="714.20" y1="180.30" x2="714.20" y2="181.00" stroke="#8A8A8A" stroke-width="0.9"/>
<rect x="706.90" y="178.80" width="14.60" height="1.50" fill="#fff" stroke="#8A8A8A" stroke-width="0.9"/>
<line x1="706.90" y1="179.50" x2="721.50" y2="179.50" stroke="#8A8A8A" stroke-width="1.08"/>
<circle cx="714.74" cy="179.32" r="1.6" fill="#8C8C8C" stroke="none" stroke-width="1"/>
<circle cx="709.43" cy="178.99" r="1.6" fill="#8C8C8C" stroke="none" stroke-width="1"/>
<circle cx="715.43" cy="179.54" r="1.6" fill="#8C8C8C" stroke="none" stroke-width="1"/>
<circle cx="709.89" cy="180.96" r="1.6" fill="#8C8C8C" stroke="none" stroke-width="1"/>
<circle cx="717.05" cy="180.92" r="1.6" fill="#8C8C8C" stroke="none" stroke-width="1"/>
<circle cx="710.29" cy="178.80" r="1.6" fill="#8C8C8C" stroke="none" stroke-width="1"/>
<circle cx="709.64" cy="180.34" r="1.6" fill="#8C8C8C" stroke="none" stroke-width="1"/>
<circle cx="711.93" cy="178.39" r="1.6" fill="#8C8C8C" stroke="none" stroke-width="1"/>
<circle cx="713.43" cy="180.73" r="1.6" fill="#8C8C8C" stroke="none" stroke-width="1"/>
<circle cx="717.36" cy="178.78" r="1.6" fill="#8C8C8C" stroke="none" stroke-width="1"/>
<circle cx="710.73" cy="180.76" r="1.6" fill="#8C8C8C" stroke="none" stroke-width="1"/>
<circle cx="714.90" cy="180.10" r="1.6" fill="#8C8C8C" stroke="none" stroke-width="1"/>
<line x1="751.70" y1="179.00" x2="751.70" y2="179.30" stroke="#8A8A8A" stroke-width="0.9"/>
<line x1="751.70" y1="180.30" x2="751.70" y2="180.60" stroke="#8A8A8A" stroke-width="0.9"/>
<rect x="744.40" y="179.30" width="14.60" height="1.00" fill="#fff" stroke="#8A8A8A" stroke-width="0.9"/>
<line x1="744.40" y1="179.80" x2="759.00" y2="179.80" stroke="#8A8A8A" stroke-width="1.08"/>
<circle cx="747.64" cy="178.92" r="1.6" fill="#8C8C8C" stroke="none" stroke-width="1"/>
<circle cx="753.56" cy="179.65" r="1.6" fill="#8C8C8C" stroke="none" stroke-width="1"/>
<circle cx="747.47" cy="180.68" r="1.6" fill="#8C8C8C" stroke="none" stroke-width="1"/>
<circle cx="753.03" cy="180.40" r="1.6" fill="#8C8C8C" stroke="none" stroke-width="1"/>
<circle cx="747.58" cy="180.51" r="1.6" fill="#8C8C8C" stroke="none" stroke-width="1"/>
<circle cx="747.41" cy="180.53" r="1.6" fill="#8C8C8C" stroke="none" stroke-width="1"/>
<circle cx="751.24" cy="179.48" r="1.6" fill="#8C8C8C" stroke="none" stroke-width="1"/>
<circle cx="752.23" cy="180.65" r="1.6" fill="#8C8C8C" stroke="none" stroke-width="1"/>
<circle cx="749.40" cy="179.06" r="1.6" fill="#8C8C8C" stroke="none" stroke-width="1"/>
<circle cx="751.97" cy="179.28" r="1.6" fill="#8C8C8C" stroke="none" stroke-width="1"/>
<line x1="582.80" y1="47.30" x2="582.80" y2="70.80" stroke="#111" stroke-width="0.9"/>
<line x1="582.80" y1="91.40" x2="582.80" y2="120.70" stroke="#111" stroke-width="0.9"/>
<rect x="575.50" y="70.80" width="14.60" height="20.60" fill="#fff" stroke="#111" stroke-width="0.9"/>
<line x1="575.50" y1="73.90" x2="590.10" y2="73.90" stroke="#111" stroke-width="1.08"/>
<circle cx="578.80" cy="47.30" r="1.45" fill="#000" stroke="none" stroke-width="1"/>
<circle cx="581.90" cy="58.00" r="1.45" fill="#000" stroke="none" stroke-width="1"/>
<circle cx="581.00" cy="72.50" r="1.45" fill="#000" stroke="none" stroke-width="1"/>
<circle cx="583.50" cy="72.00" r="1.45" fill="#000" stroke="none" stroke-width="1"/>
<circle cx="585.00" cy="73.00" r="1.45" fill="#000" stroke="none" stroke-width="1"/>
<circle cx="587.00" cy="72.80" r="1.45" fill="#000" stroke="none" stroke-width="1"/>
<circle cx="583.30" cy="79.40" r="1.45" fill="#000" stroke="none" stroke-width="1"/>
<circle cx="582.40" cy="88.40" r="1.45" fill="#000" stroke="none" stroke-width="1"/>
<circle cx="581.80" cy="89.00" r="1.45" fill="#000" stroke="none" stroke-width="1"/>
<circle cx="586.10" cy="93.20" r="1.45" fill="#000" stroke="none" stroke-width="1"/>
<circle cx="581.10" cy="102.00" r="1.45" fill="#000" stroke="none" stroke-width="1"/>
<circle cx="583.70" cy="108.80" r="1.45" fill="#000" stroke="none" stroke-width="1"/>
<circle cx="581.10" cy="118.50" r="1.45" fill="#000" stroke="none" stroke-width="1"/>
<circle cx="582.80" cy="120.70" r="1.45" fill="#000" stroke="none" stroke-width="1"/>
<line x1="620.60" y1="101.40" x2="620.60" y2="114.20" stroke="#111" stroke-width="0.9"/>
<line x1="620.60" y1="124.30" x2="620.60" y2="135.30" stroke="#111" stroke-width="0.9"/>
<rect x="613.30" y="114.20" width="14.60" height="10.10" fill="#fff" stroke="#111" stroke-width="0.9"/>
<line x1="613.30" y1="119.60" x2="627.90" y2="119.60" stroke="#111" stroke-width="1.08"/>
<circle cx="621.10" cy="101.60" r="1.45" fill="#000" stroke="none" stroke-width="1"/>
<circle cx="622.20" cy="104.20" r="1.45" fill="#000" stroke="none" stroke-width="1"/>
<circle cx="619.00" cy="109.70" r="1.45" fill="#000" stroke="none" stroke-width="1"/>
<circle cx="621.30" cy="111.50" r="1.45" fill="#000" stroke="none" stroke-width="1"/>
<circle cx="616.70" cy="114.20" r="1.45" fill="#000" stroke="none" stroke-width="1"/>
<circle cx="618.10" cy="115.60" r="1.45" fill="#000" stroke="none" stroke-width="1"/>
<circle cx="623.90" cy="116.80" r="1.45" fill="#000" stroke="none" stroke-width="1"/>
<circle cx="620.00" cy="119.30" r="1.45" fill="#000" stroke="none" stroke-width="1"/>
<circle cx="622.20" cy="121.60" r="1.45" fill="#000" stroke="none" stroke-width="1"/>
<circle cx="617.70" cy="125.70" r="1.45" fill="#000" stroke="none" stroke-width="1"/>
<circle cx="620.40" cy="126.60" r="1.45" fill="#000" stroke="none" stroke-width="1"/>
<circle cx="619.00" cy="131.20" r="1.45" fill="#000" stroke="none" stroke-width="1"/>
<circle cx="617.20" cy="134.90" r="1.45" fill="#000" stroke="none" stroke-width="1"/>
<circle cx="621.50" cy="118.00" r="1.45" fill="#000" stroke="none" stroke-width="1"/>
<line x1="657.80" y1="153.70" x2="657.80" y2="160.90" stroke="#111" stroke-width="0.9"/>
<line x1="657.80" y1="166.10" x2="657.80" y2="171.20" stroke="#111" stroke-width="0.9"/>
<rect x="650.50" y="160.90" width="14.60" height="5.20" fill="#fff" stroke="#111" stroke-width="0.9"/>
<line x1="650.50" y1="163.40" x2="665.10" y2="163.40" stroke="#111" stroke-width="1.08"/>
<circle cx="659.10" cy="148.70" r="1.45" fill="#000" stroke="none" stroke-width="1"/>
<circle cx="654.20" cy="153.70" r="1.45" fill="#000" stroke="none" stroke-width="1"/>
<circle cx="655.10" cy="155.60" r="1.45" fill="#000" stroke="none" stroke-width="1"/>
<circle cx="657.40" cy="160.60" r="1.45" fill="#000" stroke="none" stroke-width="1"/>
<circle cx="659.20" cy="162.00" r="1.45" fill="#000" stroke="none" stroke-width="1"/>
<circle cx="656.00" cy="163.40" r="1.45" fill="#000" stroke="none" stroke-width="1"/>
<circle cx="661.10" cy="164.30" r="1.45" fill="#000" stroke="none" stroke-width="1"/>
<circle cx="657.00" cy="165.70" r="1.45" fill="#000" stroke="none" stroke-width="1"/>
<circle cx="661.10" cy="167.00" r="1.45" fill="#000" stroke="none" stroke-width="1"/>
<circle cx="655.60" cy="167.50" r="1.45" fill="#000" stroke="none" stroke-width="1"/>
<circle cx="658.30" cy="168.40" r="1.45" fill="#000" stroke="none" stroke-width="1"/>
<circle cx="656.50" cy="171.20" r="1.45" fill="#000" stroke="none" stroke-width="1"/>
<circle cx="658.00" cy="164.00" r="1.45" fill="#000" stroke="none" stroke-width="1"/>
<line x1="695.70" y1="178.40" x2="695.70" y2="185.80" stroke="#111" stroke-width="0.9"/>
<line x1="695.70" y1="191.10" x2="695.70" y2="193.90" stroke="#111" stroke-width="0.9"/>
<rect x="688.40" y="185.80" width="14.60" height="5.30" fill="#fff" stroke="#111" stroke-width="0.9"/>
<line x1="688.40" y1="189.00" x2="703.00" y2="189.00" stroke="#111" stroke-width="1.08"/>
<circle cx="691.83" cy="185.79" r="1.6" fill="#000" stroke="none" stroke-width="1"/>
<circle cx="691.25" cy="186.11" r="1.6" fill="#000" stroke="none" stroke-width="1"/>
<circle cx="693.84" cy="186.94" r="1.6" fill="#000" stroke="none" stroke-width="1"/>
<circle cx="698.27" cy="186.82" r="1.6" fill="#000" stroke="none" stroke-width="1"/>
<circle cx="695.70" cy="185.92" r="1.6" fill="#000" stroke="none" stroke-width="1"/>
<circle cx="694.19" cy="184.65" r="1.6" fill="#000" stroke="none" stroke-width="1"/>
<circle cx="693.23" cy="184.62" r="1.6" fill="#000" stroke="none" stroke-width="1"/>
<circle cx="698.01" cy="188.91" r="1.6" fill="#000" stroke="none" stroke-width="1"/>
<circle cx="692.63" cy="188.30" r="1.6" fill="#000" stroke="none" stroke-width="1"/>
<circle cx="700.00" cy="185.35" r="1.6" fill="#000" stroke="none" stroke-width="1"/>
<circle cx="698.86" cy="187.96" r="1.6" fill="#000" stroke="none" stroke-width="1"/>
<circle cx="695.65" cy="191.18" r="1.6" fill="#000" stroke="none" stroke-width="1"/>
<circle cx="694.64" cy="188.55" r="1.6" fill="#000" stroke="none" stroke-width="1"/>
<circle cx="697.56" cy="192.36" r="1.6" fill="#000" stroke="none" stroke-width="1"/>
<circle cx="694.14" cy="191.16" r="1.6" fill="#000" stroke="none" stroke-width="1"/>
<circle cx="697.75" cy="189.59" r="1.6" fill="#000" stroke="none" stroke-width="1"/>
<circle cx="694.76" cy="187.28" r="1.6" fill="#000" stroke="none" stroke-width="1"/>
<circle cx="691.29" cy="185.54" r="1.6" fill="#000" stroke="none" stroke-width="1"/>
<circle cx="695.90" cy="178.40" r="1.6" fill="#000" stroke="none" stroke-width="1"/>
<line x1="733.20" y1="200.50" x2="733.20" y2="201.30" stroke="#111" stroke-width="0.9"/>
<line x1="733.20" y1="202.70" x2="733.20" y2="203.30" stroke="#111" stroke-width="0.9"/>
<rect x="725.90" y="201.30" width="14.60" height="1.40" fill="#fff" stroke="#111" stroke-width="0.9"/>
<line x1="725.90" y1="202.00" x2="740.50" y2="202.00" stroke="#111" stroke-width="1.08"/>
<circle cx="728.18" cy="202.63" r="1.6" fill="#000" stroke="none" stroke-width="1"/>
<circle cx="730.34" cy="201.12" r="1.6" fill="#000" stroke="none" stroke-width="1"/>
<circle cx="728.34" cy="202.89" r="1.6" fill="#000" stroke="none" stroke-width="1"/>
<circle cx="737.54" cy="202.44" r="1.6" fill="#000" stroke="none" stroke-width="1"/>
<circle cx="730.65" cy="201.33" r="1.6" fill="#000" stroke="none" stroke-width="1"/>
<circle cx="730.78" cy="201.89" r="1.6" fill="#000" stroke="none" stroke-width="1"/>
<circle cx="729.19" cy="201.86" r="1.6" fill="#000" stroke="none" stroke-width="1"/>
<circle cx="730.43" cy="203.20" r="1.6" fill="#000" stroke="none" stroke-width="1"/>
<circle cx="738.73" cy="202.12" r="1.6" fill="#000" stroke="none" stroke-width="1"/>
<circle cx="730.21" cy="203.21" r="1.6" fill="#000" stroke="none" stroke-width="1"/>
<circle cx="730.97" cy="201.63" r="1.6" fill="#000" stroke="none" stroke-width="1"/>
<circle cx="727.36" cy="201.69" r="1.6" fill="#000" stroke="none" stroke-width="1"/>
<circle cx="732.90" cy="202.01" r="1.6" fill="#000" stroke="none" stroke-width="1"/>
<circle cx="729.70" cy="202.01" r="1.6" fill="#000" stroke="none" stroke-width="1"/>
<line x1="770.50" y1="202.50" x2="770.50" y2="203.00" stroke="#111" stroke-width="0.9"/>
<line x1="770.50" y1="204.00" x2="770.50" y2="204.50" stroke="#111" stroke-width="0.9"/>
<rect x="763.20" y="203.00" width="14.60" height="1.00" fill="#fff" stroke="#111" stroke-width="0.9"/>
<line x1="763.20" y1="203.50" x2="777.80" y2="203.50" stroke="#111" stroke-width="1.08"/>
<circle cx="764.71" cy="203.03" r="1.6" fill="#000" stroke="none" stroke-width="1"/>
<circle cx="765.70" cy="203.30" r="1.6" fill="#000" stroke="none" stroke-width="1"/>
<circle cx="765.14" cy="202.54" r="1.6" fill="#000" stroke="none" stroke-width="1"/>
<circle cx="768.21" cy="202.97" r="1.6" fill="#000" stroke="none" stroke-width="1"/>
<circle cx="771.50" cy="203.56" r="1.6" fill="#000" stroke="none" stroke-width="1"/>
<circle cx="773.43" cy="203.82" r="1.6" fill="#000" stroke="none" stroke-width="1"/>
<circle cx="773.03" cy="204.26" r="1.6" fill="#000" stroke="none" stroke-width="1"/>
<circle cx="769.21" cy="203.15" r="1.6" fill="#000" stroke="none" stroke-width="1"/>
<circle cx="776.17" cy="202.80" r="1.6" fill="#000" stroke="none" stroke-width="1"/>
<circle cx="773.12" cy="203.79" r="1.6" fill="#000" stroke="none" stroke-width="1"/>
<circle cx="765.16" cy="204.17" r="1.6" fill="#000" stroke="none" stroke-width="1"/>
<circle cx="775.09" cy="203.75" r="1.6" fill="#000" stroke="none" stroke-width="1"/>
</g>
<rect x="550.70" y="15.90" width="232.60" height="207.00" fill="none" stroke="#000" stroke-width="1.3"/>
<line x1="548.20" y1="213.50" x2="550.70" y2="213.50" stroke="#000" stroke-width="1"/>
<text x="546.70" y="216.70" font-size="9.2" text-anchor="end" fill="#222" stroke="#222" stroke-width="0.13">-0.1</text>
<line x1="548.20" y1="176.00" x2="550.70" y2="176.00" stroke="#000" stroke-width="1"/>
<text x="546.70" y="179.20" font-size="9.2" text-anchor="end" fill="#222" stroke="#222" stroke-width="0.13">0</text>
<line x1="548.20" y1="138.50" x2="550.70" y2="138.50" stroke="#000" stroke-width="1"/>
<text x="546.70" y="141.70" font-size="9.2" text-anchor="end" fill="#222" stroke="#222" stroke-width="0.13">0.1</text>
<line x1="548.20" y1="101.00" x2="550.70" y2="101.00" stroke="#000" stroke-width="1"/>
<text x="546.70" y="104.20" font-size="9.2" text-anchor="end" fill="#222" stroke="#222" stroke-width="0.13">0.2</text>
<line x1="548.20" y1="63.50" x2="550.70" y2="63.50" stroke="#000" stroke-width="1"/>
<text x="546.70" y="66.70" font-size="9.2" text-anchor="end" fill="#222" stroke="#222" stroke-width="0.13">0.3</text>
<line x1="548.20" y1="26.00" x2="550.70" y2="26.00" stroke="#000" stroke-width="1"/>
<text x="546.70" y="29.20" font-size="9.2" text-anchor="end" fill="#222" stroke="#222" stroke-width="0.13">0.4</text>
<line x1="573.60" y1="222.90" x2="573.60" y2="225.40" stroke="#000" stroke-width="1"/>
<text x="573.60" y="234.80" font-size="9.2" text-anchor="middle" fill="#222" stroke="#222" stroke-width="0.13">1:16</text>
<line x1="611.10" y1="222.90" x2="611.10" y2="225.40" stroke="#000" stroke-width="1"/>
<text x="611.10" y="234.80" font-size="9.2" text-anchor="middle" fill="#222" stroke="#222" stroke-width="0.13">1:8</text>
<line x1="648.60" y1="222.90" x2="648.60" y2="225.40" stroke="#000" stroke-width="1"/>
<text x="648.60" y="234.80" font-size="9.2" text-anchor="middle" fill="#222" stroke="#222" stroke-width="0.13">1:4</text>
<line x1="686.10" y1="222.90" x2="686.10" y2="225.40" stroke="#000" stroke-width="1"/>
<text x="686.10" y="234.80" font-size="9.2" text-anchor="middle" fill="#222" stroke="#222" stroke-width="0.13">1:2</text>
<line x1="723.60" y1="222.90" x2="723.60" y2="225.40" stroke="#000" stroke-width="1"/>
<text x="723.60" y="234.80" font-size="9.2" text-anchor="middle" fill="#222" stroke="#222" stroke-width="0.13">1:1</text>
<line x1="761.10" y1="222.90" x2="761.10" y2="225.40" stroke="#000" stroke-width="1"/>
<text x="761.10" y="234.80" font-size="9.2" text-anchor="middle" fill="#222" stroke="#222" stroke-width="0.13">1.5:1</text>
<text x="642.00" y="248.20" font-size="11.1" text-anchor="start" fill="#000" stroke="#000" stroke-width="0.13" textLength="48.3" lengthAdjust="spacingAndGlyphs">P:C ratios</text>
<text transform="translate(529.3 207.35000000000002) rotate(-90)" font-size="11.4" fill="#000" stroke="#000" stroke-width="0.13" textLength="174.3" lengthAdjust="spacingAndGlyphs"><tspan font-style="italic">D. biarmipes</tspan> - macronutrient offset</text>
<text x="293.40" y="36.20" font-size="10.5" text-anchor="start" fill="#9A9A9A" stroke="#9A9A9A" stroke-width="0.13">a</text>
<text x="301.20" y="36.20" font-size="10.5" text-anchor="start" fill="#222" stroke="#222" stroke-width="0.13">,</text>
<text x="304.30" y="36.20" font-size="10.5" text-anchor="start" fill="#111" stroke="#111" stroke-width="0.13">b</text>
<text x="573.20" y="35.30" font-size="10.5" text-anchor="start" font-style="italic" fill="#9A9A9A" stroke="#9A9A9A" stroke-width="0.13">a</text>
<text x="580.80" y="35.30" font-size="10.5" text-anchor="start" font-style="italic" fill="#222" stroke="#222" stroke-width="0.13">,</text>
<text x="584.00" y="35.30" font-size="10.5" text-anchor="start" font-style="italic" fill="#111" stroke="#111" stroke-width="0.13">b</text>
<line x1="705.50" y1="22.90" x2="705.50" y2="36.10" stroke="#8A8A8A" stroke-width="0.9"/>
<rect x="698.30" y="25.20" width="14.40" height="8.60" fill="#fff" stroke="#8A8A8A" stroke-width="1.0"/>
<line x1="698.30" y1="29.50" x2="712.70" y2="29.50" stroke="#8A8A8A" stroke-width="1.0"/>
<circle cx="705.50" cy="29.50" r="1.4" fill="#8A8A8A" stroke="none" stroke-width="1"/>
<text x="715.50" y="32.90" font-size="9.6" text-anchor="start" fill="#111" stroke="#111" stroke-width="0.13" textLength="30.0" lengthAdjust="spacingAndGlyphs">Protein</text>
<line x1="705.50" y1="39.00" x2="705.50" y2="52.20" stroke="#111" stroke-width="0.9"/>
<rect x="698.30" y="41.30" width="14.40" height="8.60" fill="#fff" stroke="#111" stroke-width="1.0"/>
<line x1="698.30" y1="45.60" x2="712.70" y2="45.60" stroke="#111" stroke-width="1.0"/>
<circle cx="705.50" cy="45.60" r="1.4" fill="#111" stroke="none" stroke-width="1"/>
<text x="715.50" y="49.00" font-size="9.6" text-anchor="start" fill="#111" stroke="#111" stroke-width="0.13" textLength="62.2" lengthAdjust="spacingAndGlyphs">Carbohydrates</text>
<text x="1.30" y="256.90" font-size="16" text-anchor="start" font-weight="bold" fill="#000" stroke="#000" stroke-width="0.13">C</text>
<clipPath id="clipC"><rect x="31.4" y="257.4" width="197.0" height="207.10000000000002"/></clipPath>
<g clip-path="url(#clipC)">
<line x1="24.90" y1="569.52" x2="344.90" y2="-1249.96" stroke="#000" stroke-width="1.35" stroke-dasharray="4,3.2"/>
<line x1="24.90" y1="512.66" x2="344.90" y2="-397.08" stroke="#000" stroke-width="1.35" stroke-dasharray="4,3.2"/>
<line x1="24.90" y1="484.23" x2="344.90" y2="29.36" stroke="#000" stroke-width="1.35" stroke-dasharray="4,3.2"/>
<line x1="24.90" y1="470.01" x2="344.90" y2="242.58" stroke="#000" stroke-width="1.35" stroke-dasharray="4,3.2"/>
<line x1="24.90" y1="462.91" x2="344.90" y2="349.19" stroke="#000" stroke-width="1.35" stroke-dasharray="4,3.2"/>
<line x1="24.90" y1="460.54" x2="344.90" y2="384.73" stroke="#000" stroke-width="1.35" stroke-dasharray="4,3.2"/>
</g>
<rect x="31.40" y="257.40" width="197.00" height="207.10" fill="none" stroke="#000" stroke-width="1.3"/>
<line x1="28.90" y1="455.80" x2="31.40" y2="455.80" stroke="#000" stroke-width="1"/>
<text x="27.50" y="459.00" font-size="9.2" text-anchor="end" fill="#222" stroke="#222" stroke-width="0.13">0</text>
<line x1="28.90" y1="392.90" x2="31.40" y2="392.90" stroke="#000" stroke-width="1"/>
<text x="27.50" y="396.10" font-size="9.2" text-anchor="end" fill="#222" stroke="#222" stroke-width="0.13">0.5</text>
<line x1="28.90" y1="330.00" x2="31.40" y2="330.00" stroke="#000" stroke-width="1"/>
<text x="27.50" y="333.20" font-size="9.2" text-anchor="end" fill="#222" stroke="#222" stroke-width="0.13">1.0</text>
<line x1="28.90" y1="267.10" x2="31.40" y2="267.10" stroke="#000" stroke-width="1"/>
<text x="27.50" y="270.30" font-size="9.2" text-anchor="end" fill="#222" stroke="#222" stroke-width="0.13">1.5</text>
<line x1="44.90" y1="464.50" x2="44.90" y2="467.00" stroke="#000" stroke-width="1"/>
<text x="44.90" y="475.30" font-size="9.2" text-anchor="middle" fill="#222" stroke="#222" stroke-width="0.13">0</text>
<line x1="115.70" y1="464.50" x2="115.70" y2="467.00" stroke="#000" stroke-width="1"/>
<text x="115.70" y="475.30" font-size="9.2" text-anchor="middle" fill="#222" stroke="#222" stroke-width="0.13">0.2</text>
<line x1="186.50" y1="464.50" x2="186.50" y2="467.00" stroke="#000" stroke-width="1"/>
<text x="186.50" y="475.30" font-size="9.2" text-anchor="middle" fill="#222" stroke="#222" stroke-width="0.13">0.4</text>
<text x="84.10" y="487.20" font-size="11.1" text-anchor="start" fill="#000" stroke="#000" stroke-width="0.13" textLength="105.9" lengthAdjust="spacingAndGlyphs">Protein ingested (mg)</text>
<text x="10.00" y="432.00" font-size="11.4" text-anchor="start" fill="#000" stroke="#000" stroke-width="0.13" transform="rotate(-90 10.0 432.0)" textLength="141.2" lengthAdjust="spacingAndGlyphs">Carbohydrate ingested (mg)</text>
<text transform="translate(71.00 270.30) rotate(-80)" x="0" y="2.92" font-size="8.1" text-anchor="middle" fill="#222" stroke="#222" stroke-width="0.13">1:16</text>
<text transform="translate(103.90 275.60) rotate(-71)" x="0" y="2.92" font-size="8.1" text-anchor="middle" fill="#222" stroke="#222" stroke-width="0.13">1:8</text>
<text transform="translate(159.00 283.30) rotate(-55)" x="0" y="2.92" font-size="8.1" text-anchor="middle" fill="#222" stroke="#222" stroke-width="0.13">1:4</text>
<text transform="translate(216.80 326.60) rotate(-35.5)" x="0" y="2.92" font-size="8.1" text-anchor="middle" fill="#222" stroke="#222" stroke-width="0.13">1:2</text>
<text transform="translate(212.50 392.40) rotate(-19.6)" x="0" y="2.92" font-size="8.1" text-anchor="middle" fill="#222" stroke="#222" stroke-width="0.13">1:1</text>
<text transform="translate(211.50 418.30) rotate(-13.3)" x="0" y="2.92" font-size="8.1" text-anchor="middle" fill="#222" stroke="#222" stroke-width="0.13">1.5:1</text>
<line x1="152.70" y1="328.50" x2="192.70" y2="328.50" stroke="#333" stroke-width="1.1"/>
<line x1="172.70" y1="302.00" x2="172.70" y2="356.00" stroke="#333" stroke-width="1.1"/>
<line x1="117.00" y1="339.90" x2="220.60" y2="339.90" stroke="#333" stroke-width="1.1"/>
<line x1="176.40" y1="312.00" x2="176.40" y2="368.00" stroke="#333" stroke-width="1.1"/>
<line x1="96.30" y1="334.20" x2="145.60" y2="334.20" stroke="#333" stroke-width="1.1"/>
<line x1="120.50" y1="294.00" x2="120.50" y2="400.00" stroke="#333" stroke-width="1.1"/>
<line x1="114.00" y1="339.90" x2="142.00" y2="339.90" stroke="#333" stroke-width="1.1"/>
<line x1="125.60" y1="318.00" x2="125.60" y2="380.00" stroke="#333" stroke-width="1.1"/>
<line x1="106.40" y1="346.20" x2="131.40" y2="346.20" stroke="#333" stroke-width="1.1"/>
<line x1="118.50" y1="316.00" x2="118.50" y2="366.00" stroke="#333" stroke-width="1.1"/>
<line x1="121.00" y1="351.90" x2="148.50" y2="351.90" stroke="#333" stroke-width="1.1"/>
<line x1="131.30" y1="336.00" x2="131.30" y2="368.00" stroke="#333" stroke-width="1.1"/>
<line x1="145.60" y1="350.50" x2="157.00" y2="350.50" stroke="#333" stroke-width="1.1"/>
<line x1="150.70" y1="329.00" x2="150.70" y2="371.00" stroke="#333" stroke-width="1.1"/>
<line x1="135.60" y1="362.70" x2="158.40" y2="362.70" stroke="#333" stroke-width="1.1"/>
<line x1="147.60" y1="340.00" x2="147.60" y2="390.00" stroke="#333" stroke-width="1.1"/>
<line x1="140.60" y1="371.30" x2="153.40" y2="371.30" stroke="#333" stroke-width="1.1"/>
<line x1="147.00" y1="355.00" x2="147.00" y2="385.00" stroke="#333" stroke-width="1.1"/>
<line x1="114.20" y1="370.70" x2="137.00" y2="370.70" stroke="#333" stroke-width="1.1"/>
<line x1="125.60" y1="352.00" x2="125.60" y2="392.00" stroke="#333" stroke-width="1.1"/>
<line x1="112.00" y1="382.70" x2="128.00" y2="382.70" stroke="#333" stroke-width="1.1"/>
<line x1="121.90" y1="363.00" x2="121.90" y2="403.00" stroke="#333" stroke-width="1.1"/>
<line x1="109.20" y1="381.80" x2="140.60" y2="381.80" stroke="#333" stroke-width="1.1"/>
<line x1="127.00" y1="365.00" x2="127.00" y2="393.00" stroke="#333" stroke-width="1.1"/>
<line x1="136.00" y1="392.00" x2="158.00" y2="392.00" stroke="#333" stroke-width="1.1"/>
<line x1="146.50" y1="357.00" x2="146.50" y2="407.00" stroke="#333" stroke-width="1.1"/>
<line x1="122.00" y1="411.20" x2="153.00" y2="411.20" stroke="#333" stroke-width="1.1"/>
<line x1="137.90" y1="406.00" x2="137.90" y2="416.00" stroke="#333" stroke-width="1.1"/>
<path d="M172.70,325.50 L175.70,328.50 L172.70,331.50 L169.70,328.50 Z" fill="#1F5C9C" stroke="#1F5C9C" stroke-width="0.9"/>
<circle cx="172.70" cy="328.50" r="1.0" fill="#111" stroke="none" stroke-width="1"/>
<circle cx="176.4" cy="339.9" r="2.5" fill="#C0141A" stroke="#C0141A" stroke-width="0.9"/>
<circle cx="176.40" cy="339.90" r="1.0" fill="#111" stroke="none" stroke-width="1"/>
<circle cx="120.5" cy="334.2" r="2.5" fill="none" stroke="#E0282A" stroke-width="0.9"/>
<path d="M125.60,336.90 L128.60,339.90 L125.60,342.90 L122.60,339.90 Z" fill="none" stroke="#E0282A" stroke-width="0.9"/>
<path d="M118.50,343.20 L121.50,346.20 L118.50,349.20 L115.50,346.20 Z" fill="#C0141A" stroke="#C0141A" stroke-width="0.9"/>
<circle cx="118.50" cy="346.20" r="1.0" fill="#111" stroke="none" stroke-width="1"/>
<path d="M128.50,353.52 L134.10,353.52 L131.30,348.67 Z" fill="#C0141A" stroke="#C0141A" stroke-width="0.5"/>
<circle cx="131.30" cy="351.90" r="1.0" fill="#111" stroke="none" stroke-width="1"/>
<circle cx="150.7" cy="350.5" r="2.5" fill="none" stroke="#3C82C4" stroke-width="0.9"/>
<path d="M147.60,359.70 L150.60,362.70 L147.60,365.70 L144.60,362.70 Z" fill="#1F5C9C" stroke="#1F5C9C" stroke-width="0.9"/>
<circle cx="147.60" cy="362.70" r="1.0" fill="#111" stroke="none" stroke-width="1"/>
<path d="M144.20,372.92 L149.80,372.92 L147.00,368.07 Z" fill="#1F5C9C" stroke="#1F5C9C" stroke-width="0.5"/>
<circle cx="147.00" cy="371.30" r="1.0" fill="#111" stroke="none" stroke-width="1"/>
<rect x="123.20" y="368.30" width="4.80" height="4.80" fill="#C0141A" stroke="#C0141A" stroke-width="0.9"/>
<circle cx="125.60" cy="370.70" r="1.0" fill="#111" stroke="none" stroke-width="1"/>
<circle cx="121.9" cy="382.7" r="2.5" fill="none" stroke="#E0282A" stroke-width="0.9"/>
<path d="M127.00,378.80 L130.00,381.80 L127.00,384.80 L124.00,381.80 Z" fill="#1F5C9C" stroke="#1F5C9C" stroke-width="0.9"/>
<circle cx="127.00" cy="381.80" r="1.0" fill="#111" stroke="none" stroke-width="1"/>
<path d="M146.50,389.00 L149.50,392.00 L146.50,395.00 L143.50,392.00 Z" fill="none" stroke="#3C82C4" stroke-width="0.9"/>
<circle cx="137.9" cy="411.2" r="2.5" fill="none" stroke="#3C82C4" stroke-width="0.9"/>
<text x="236.00" y="264.30" font-size="9.7" text-anchor="start" font-weight="bold" fill="#000" stroke="#000" stroke-width="0.13" textLength="35.2" lengthAdjust="spacingAndGlyphs">Species</text>
<circle cx="238.20" cy="272.60" r="2.7" fill="#E8141A" stroke="none" stroke-width="1"/>
<text x="243.60" y="276.00" font-size="9.7" text-anchor="start" font-style="italic" fill="#222" stroke="#222" stroke-width="0.13" textLength="41.0" lengthAdjust="spacingAndGlyphs">D. suzukii</text>
<circle cx="238.20" cy="282.90" r="2.7" fill="#2F80C6" stroke="none" stroke-width="1"/>
<text x="243.60" y="286.30" font-size="9.7" text-anchor="start" font-style="italic" fill="#222" stroke="#222" stroke-width="0.13">D. biarmipes</text>
<text x="236.00" y="301.30" font-size="9.7" text-anchor="start" font-weight="bold" fill="#000" stroke="#000" stroke-width="0.13">Time</text>
<circle cx="238.20" cy="306.60" r="2.5" fill="#000" stroke="none" stroke-width="1"/>
<text x="243.30" y="310.80" font-size="9.7" text-anchor="start" fill="#222" stroke="#222" stroke-width="0.13" textLength="32.0" lengthAdjust="spacingAndGlyphs">2 hours</text>
<circle cx="238.2" cy="316.1" r="2.2" fill="none" stroke="#000" stroke-width="1.0"/>
<text x="243.30" y="319.80" font-size="9.7" text-anchor="start" fill="#222" stroke="#222" stroke-width="0.13" textLength="32.0" lengthAdjust="spacingAndGlyphs">4 hours</text>
<text x="236.00" y="335.50" font-size="9.7" text-anchor="start" font-weight="bold" fill="#000" stroke="#000" stroke-width="0.13">Treatment</text>
<circle cx="239.1" cy="342.6" r="2.3" fill="none" stroke="#000" stroke-width="1.0"/>
<text x="243.00" y="346.20" font-size="9.7" text-anchor="start" fill="#222" stroke="#222" stroke-width="0.13" textLength="43.5" lengthAdjust="spacingAndGlyphs">1.5:1vs1:8</text>
<rect x="236.80" y="350.20" width="4.60" height="4.60" fill="none" stroke="#000" stroke-width="1.0"/>
<text x="243.00" y="356.20" font-size="9.7" text-anchor="start" fill="#222" stroke="#222" stroke-width="0.13">1:1vs1:8</text>
<path d="M239.10,358.40 L242.10,361.40 L239.10,364.40 L236.10,361.40 Z" fill="none" stroke="#000" stroke-width="1.0"/>
<text x="243.00" y="365.60" font-size="9.7" text-anchor="start" fill="#222" stroke="#222" stroke-width="0.13">1:1vs1:16</text>
<path d="M235.70,376.65 L242.10,376.65 L238.90,371.11 Z" fill="#000" stroke="none" stroke-width="1"/>
<text x="243.00" y="378.30" font-size="9.7" text-anchor="start" fill="#222" stroke="#222" stroke-width="0.13" textLength="71.5" lengthAdjust="spacingAndGlyphs">Species average</text>
<path d="M236.50000000000003,425 A39.1,39.1 0 0 1 314.70000000000005,425 Z" fill="#C7702D"/>
<path d="M236.50000000000003,425 A39.1,39.1 0 0 0 314.70000000000005,425 Z" fill="#FCD84B"/>
<circle cx="275.6" cy="425" r="39.1" fill="none" stroke="#D4D4D4" stroke-width="0.8"/>
<line x1="236.50" y1="425.00" x2="314.70" y2="425.00" stroke="#CFCFCF" stroke-width="1.3"/>
<line x1="253.00" y1="405.00" x2="266.60" y2="418.00" stroke="#D9B040" stroke-width="3.0" stroke-linecap="round"/>
<line x1="253.00" y1="405.00" x2="266.60" y2="418.00" stroke="#F5DC6A" stroke-width="1.8" stroke-linecap="round"/>
<circle cx="253.20" cy="405.20" r="1.0" fill="#222" stroke="none" stroke-width="1"/>
<text x="271.00" y="412.60" font-size="8.2" text-anchor="start" fill="#111" stroke="#111" stroke-width="0.13" textLength="14.3" lengthAdjust="spacingAndGlyphs">x 10</text>
<line x1="253.00" y1="436.00" x2="266.60" y2="449.00" stroke="#E0C060" stroke-width="3.0" stroke-linecap="round"/>
<line x1="253.00" y1="436.00" x2="266.60" y2="449.00" stroke="#FCEBA6" stroke-width="1.8" stroke-linecap="round"/>
<circle cx="253.20" cy="436.20" r="1.0" fill="#222" stroke="none" stroke-width="1"/>
<text x="271.00" y="443.70" font-size="8.2" text-anchor="start" fill="#111" stroke="#111" stroke-width="0.13" textLength="14.3" lengthAdjust="spacingAndGlyphs">x 10</text>
<text x="327.60" y="257.00" font-size="16" text-anchor="start" font-weight="bold" fill="#000" stroke="#000" stroke-width="0.13">D</text>
<line x1="359.70" y1="360.64" x2="549.40" y2="360.64" stroke="#000" stroke-width="1.15" stroke-dasharray="3.4,3.2"/>
<line x1="382.00" y1="308.76" x2="382.00" y2="341.65" stroke="#E41A1C" stroke-width="1"/>
<line x1="382.00" y1="416.82" x2="382.00" y2="445.76" stroke="#E41A1C" stroke-width="1"/>
<rect x="370.75" y="341.65" width="22.50" height="75.17" fill="none" stroke="#E41A1C" stroke-width="1"/>
<line x1="370.75" y1="384.87" x2="393.25" y2="384.87" stroke="#E41A1C" stroke-width="1.3"/>
<circle cx="382.00" cy="445.76" r="1.5" fill="#E41A1C" stroke="none" stroke-width="1"/>
<circle cx="382.00" cy="428.09" r="1.5" fill="#E41A1C" stroke="none" stroke-width="1"/>
<circle cx="382.00" cy="418.70" r="1.5" fill="#E41A1C" stroke="none" stroke-width="1"/>
<circle cx="382.00" cy="411.18" r="1.5" fill="#E41A1C" stroke="none" stroke-width="1"/>
<circle cx="382.00" cy="394.27" r="1.5" fill="#E41A1C" stroke="none" stroke-width="1"/>
<circle cx="382.00" cy="375.47" r="1.5" fill="#E41A1C" stroke="none" stroke-width="1"/>
<circle cx="382.00" cy="351.98" r="1.5" fill="#E41A1C" stroke="none" stroke-width="1"/>
<circle cx="382.00" cy="326.61" r="1.5" fill="#E41A1C" stroke="none" stroke-width="1"/>
<circle cx="382.00" cy="308.76" r="1.5" fill="#E41A1C" stroke="none" stroke-width="1"/>
<line x1="407.30" y1="266.48" x2="407.30" y2="317.22" stroke="#377EB8" stroke-width="1"/>
<line x1="407.30" y1="367.02" x2="407.30" y2="414.94" stroke="#377EB8" stroke-width="1"/>
<rect x="396.05" y="317.22" width="22.50" height="49.80" fill="none" stroke="#377EB8" stroke-width="1"/>
<line x1="396.05" y1="329.43" x2="418.55" y2="329.43" stroke="#377EB8" stroke-width="1.3"/>
<path d="M405.40,416.03 L409.20,416.03 L407.30,412.74 Z" fill="#377EB8" stroke="none" stroke-width="1"/>
<path d="M405.40,410.40 L409.20,410.40 L407.30,407.11 Z" fill="#377EB8" stroke="none" stroke-width="1"/>
<path d="M405.40,370.93 L409.20,370.93 L407.30,367.64 Z" fill="#377EB8" stroke="none" stroke-width="1"/>
<path d="M405.40,356.84 L409.20,356.84 L407.30,353.55 Z" fill="#377EB8" stroke="none" stroke-width="1"/>
<path d="M405.40,335.23 L409.20,335.23 L407.30,331.94 Z" fill="#377EB8" stroke="none" stroke-width="1"/>
<path d="M405.40,325.83 L409.20,325.83 L407.30,322.54 Z" fill="#377EB8" stroke="none" stroke-width="1"/>
<path d="M405.40,318.32 L409.20,318.32 L407.30,315.02 Z" fill="#377EB8" stroke="none" stroke-width="1"/>
<path d="M405.40,316.44 L409.20,316.44 L407.30,313.15 Z" fill="#377EB8" stroke="none" stroke-width="1"/>
<path d="M405.40,267.58 L409.20,267.58 L407.30,264.29 Z" fill="#377EB8" stroke="none" stroke-width="1"/>
<line x1="441.40" y1="298.43" x2="441.40" y2="320.98" stroke="#E41A1C" stroke-width="1"/>
<line x1="441.40" y1="416.82" x2="441.40" y2="452.52" stroke="#E41A1C" stroke-width="1"/>
<rect x="430.15" y="320.98" width="22.50" height="95.84" fill="none" stroke="#E41A1C" stroke-width="1"/>
<line x1="430.15" y1="349.16" x2="452.65" y2="349.16" stroke="#E41A1C" stroke-width="1.3"/>
<circle cx="441.40" cy="452.52" r="1.5" fill="#E41A1C" stroke="none" stroke-width="1"/>
<circle cx="441.40" cy="426.21" r="1.5" fill="#E41A1C" stroke="none" stroke-width="1"/>
<circle cx="441.40" cy="418.70" r="1.5" fill="#E41A1C" stroke="none" stroke-width="1"/>
<circle cx="441.40" cy="406.48" r="1.5" fill="#E41A1C" stroke="none" stroke-width="1"/>
<circle cx="441.40" cy="365.14" r="1.5" fill="#E41A1C" stroke="none" stroke-width="1"/>
<circle cx="441.40" cy="335.07" r="1.5" fill="#E41A1C" stroke="none" stroke-width="1"/>
<circle cx="441.40" cy="326.61" r="1.5" fill="#E41A1C" stroke="none" stroke-width="1"/>
<circle cx="441.40" cy="303.12" r="1.5" fill="#E41A1C" stroke="none" stroke-width="1"/>
<circle cx="441.40" cy="298.43" r="1.5" fill="#E41A1C" stroke="none" stroke-width="1"/>
<line x1="466.70" y1="345.41" x2="466.70" y2="349.16" stroke="#377EB8" stroke-width="1"/>
<line x1="466.70" y1="382.99" x2="466.70" y2="420.57" stroke="#377EB8" stroke-width="1"/>
<rect x="455.45" y="349.16" width="22.50" height="33.83" fill="none" stroke="#377EB8" stroke-width="1"/>
<line x1="455.45" y1="364.57" x2="477.95" y2="364.57" stroke="#377EB8" stroke-width="1.3"/>
<path d="M464.80,421.67 L468.60,421.67 L466.70,418.38 Z" fill="#377EB8" stroke="none" stroke-width="1"/>
<path d="M464.80,407.58 L468.60,407.58 L466.70,404.29 Z" fill="#377EB8" stroke="none" stroke-width="1"/>
<path d="M464.80,386.91 L468.60,386.91 L466.70,383.62 Z" fill="#377EB8" stroke="none" stroke-width="1"/>
<path d="M464.80,370.93 L468.60,370.93 L466.70,367.64 Z" fill="#377EB8" stroke="none" stroke-width="1"/>
<path d="M464.80,367.17 L468.60,367.17 L466.70,363.88 Z" fill="#377EB8" stroke="none" stroke-width="1"/>
<path d="M464.80,361.54 L468.60,361.54 L466.70,358.25 Z" fill="#377EB8" stroke="none" stroke-width="1"/>
<path d="M464.80,356.84 L468.60,356.84 L466.70,353.55 Z" fill="#377EB8" stroke="none" stroke-width="1"/>
<path d="M464.80,348.38 L468.60,348.38 L466.70,345.09 Z" fill="#377EB8" stroke="none" stroke-width="1"/>
<path d="M464.80,346.50 L468.60,346.50 L466.70,343.21 Z" fill="#377EB8" stroke="none" stroke-width="1"/>
<path d="M464.80,282.61 L468.60,282.61 L466.70,279.32 Z" fill="#377EB8" stroke="none" stroke-width="1"/>
<line x1="500.70" y1="273.25" x2="500.70" y2="321.92" stroke="#E41A1C" stroke-width="1"/>
<line x1="500.70" y1="426.21" x2="500.70" y2="454.40" stroke="#E41A1C" stroke-width="1"/>
<rect x="489.45" y="321.92" width="22.50" height="104.30" fill="none" stroke="#E41A1C" stroke-width="1"/>
<line x1="489.45" y1="411.18" x2="511.95" y2="411.18" stroke="#E41A1C" stroke-width="1.3"/>
<circle cx="500.70" cy="454.40" r="1.5" fill="#E41A1C" stroke="none" stroke-width="1"/>
<circle cx="500.70" cy="452.52" r="1.5" fill="#E41A1C" stroke="none" stroke-width="1"/>
<circle cx="500.70" cy="430.91" r="1.5" fill="#E41A1C" stroke="none" stroke-width="1"/>
<circle cx="500.70" cy="412.12" r="1.5" fill="#E41A1C" stroke="none" stroke-width="1"/>
<circle cx="500.70" cy="411.18" r="1.5" fill="#E41A1C" stroke="none" stroke-width="1"/>
<circle cx="500.70" cy="321.92" r="1.5" fill="#E41A1C" stroke="none" stroke-width="1"/>
<circle cx="500.70" cy="313.46" r="1.5" fill="#E41A1C" stroke="none" stroke-width="1"/>
<circle cx="500.70" cy="273.25" r="1.5" fill="#E41A1C" stroke="none" stroke-width="1"/>
<line x1="526.00" y1="322.86" x2="526.00" y2="348.23" stroke="#377EB8" stroke-width="1"/>
<line x1="526.00" y1="418.70" x2="526.00" y2="429.97" stroke="#377EB8" stroke-width="1"/>
<rect x="514.75" y="348.23" width="22.50" height="70.47" fill="none" stroke="#377EB8" stroke-width="1"/>
<line x1="514.75" y1="398.02" x2="537.25" y2="398.02" stroke="#377EB8" stroke-width="1.3"/>
<path d="M524.10,431.07 L527.90,431.07 L526.00,427.78 Z" fill="#377EB8" stroke="none" stroke-width="1"/>
<path d="M524.10,420.73 L527.90,420.73 L526.00,417.44 Z" fill="#377EB8" stroke="none" stroke-width="1"/>
<path d="M524.10,412.28 L527.90,412.28 L526.00,408.98 Z" fill="#377EB8" stroke="none" stroke-width="1"/>
<path d="M524.10,404.76 L527.90,404.76 L526.00,401.47 Z" fill="#377EB8" stroke="none" stroke-width="1"/>
<path d="M524.10,393.48 L527.90,393.48 L526.00,390.19 Z" fill="#377EB8" stroke="none" stroke-width="1"/>
<path d="M524.10,361.54 L527.90,361.54 L526.00,358.25 Z" fill="#377EB8" stroke="none" stroke-width="1"/>
<path d="M524.10,343.68 L527.90,343.68 L526.00,340.39 Z" fill="#377EB8" stroke="none" stroke-width="1"/>
<path d="M524.10,337.11 L527.90,337.11 L526.00,333.82 Z" fill="#377EB8" stroke="none" stroke-width="1"/>
<path d="M524.10,323.95 L527.90,323.95 L526.00,320.66 Z" fill="#377EB8" stroke="none" stroke-width="1"/>
<rect x="358.70" y="256.70" width="190.70" height="206.80" fill="none" stroke="#000" stroke-width="1.2"/>
<line x1="356.20" y1="454.40" x2="358.70" y2="454.40" stroke="#000" stroke-width="1"/>
<text x="354.70" y="457.60" font-size="9.2" text-anchor="end" fill="#222" stroke="#222" stroke-width="0.13">0</text>
<line x1="356.20" y1="407.42" x2="358.70" y2="407.42" stroke="#000" stroke-width="1"/>
<text x="354.70" y="410.62" font-size="9.2" text-anchor="end" fill="#222" stroke="#222" stroke-width="0.13">25</text>
<line x1="356.20" y1="360.44" x2="358.70" y2="360.44" stroke="#000" stroke-width="1"/>
<text x="354.70" y="363.64" font-size="9.2" text-anchor="end" fill="#222" stroke="#222" stroke-width="0.13">50</text>
<line x1="356.20" y1="313.46" x2="358.70" y2="313.46" stroke="#000" stroke-width="1"/>
<text x="354.70" y="316.66" font-size="9.2" text-anchor="end" fill="#222" stroke="#222" stroke-width="0.13">75</text>
<line x1="356.20" y1="266.48" x2="358.70" y2="266.48" stroke="#000" stroke-width="1"/>
<text x="354.70" y="269.68" font-size="9.2" text-anchor="end" fill="#222" stroke="#222" stroke-width="0.13">100</text>
<line x1="394.65" y1="463.50" x2="394.65" y2="466.00" stroke="#000" stroke-width="1.1"/>
<text x="398.30" y="474.80" font-size="9.2" text-anchor="middle" fill="#222" stroke="#222" stroke-width="0.13">1:1 vs 1:16</text>
<line x1="454.05" y1="463.50" x2="454.05" y2="466.00" stroke="#000" stroke-width="1.1"/>
<text x="454.90" y="474.80" font-size="9.2" text-anchor="middle" fill="#222" stroke="#222" stroke-width="0.13">1:1 vs 1:8</text>
<line x1="513.35" y1="463.50" x2="513.35" y2="466.00" stroke="#000" stroke-width="1.1"/>
<text x="509.70" y="474.80" font-size="9.2" text-anchor="middle" fill="#222" stroke="#222" stroke-width="0.13">1.5:1 vs 1:8</text>
<text x="425.30" y="487.00" font-size="11.1" text-anchor="start" fill="#000" stroke="#000" stroke-width="0.13" textLength="56.4" lengthAdjust="spacingAndGlyphs">Choice pair</text>
<text x="336.30" y="451.00" font-size="11.4" text-anchor="start" fill="#000" stroke="#000" stroke-width="0.13" transform="rotate(-90 336.3 451.0)" textLength="180.6" lengthAdjust="spacingAndGlyphs">2 hours - % of higher P:C diet in gut</text>
<line x1="596.10" y1="360.64" x2="783.20" y2="360.64" stroke="#000" stroke-width="1.15" stroke-dasharray="3.4,3.2"/>
<line x1="618.00" y1="311.58" x2="618.00" y2="366.08" stroke="#E41A1C" stroke-width="1"/>
<line x1="618.00" y1="413.43" x2="618.00" y2="444.06" stroke="#E41A1C" stroke-width="1"/>
<rect x="606.75" y="366.08" width="22.50" height="47.36" fill="none" stroke="#E41A1C" stroke-width="1"/>
<line x1="606.75" y1="384.87" x2="629.25" y2="384.87" stroke="#E41A1C" stroke-width="1.3"/>
<circle cx="618.00" cy="444.06" r="1.5" fill="#E41A1C" stroke="none" stroke-width="1"/>
<circle cx="618.00" cy="439.37" r="1.5" fill="#E41A1C" stroke="none" stroke-width="1"/>
<circle cx="618.00" cy="416.82" r="1.5" fill="#E41A1C" stroke="none" stroke-width="1"/>
<circle cx="618.00" cy="405.54" r="1.5" fill="#E41A1C" stroke="none" stroke-width="1"/>
<circle cx="618.00" cy="391.45" r="1.5" fill="#E41A1C" stroke="none" stroke-width="1"/>
<circle cx="618.00" cy="379.23" r="1.5" fill="#E41A1C" stroke="none" stroke-width="1"/>
<circle cx="618.00" cy="371.72" r="1.5" fill="#E41A1C" stroke="none" stroke-width="1"/>
<circle cx="618.00" cy="366.08" r="1.5" fill="#E41A1C" stroke="none" stroke-width="1"/>
<circle cx="618.00" cy="362.32" r="1.5" fill="#E41A1C" stroke="none" stroke-width="1"/>
<circle cx="618.00" cy="345.41" r="1.5" fill="#E41A1C" stroke="none" stroke-width="1"/>
<circle cx="618.00" cy="311.58" r="1.5" fill="#E41A1C" stroke="none" stroke-width="1"/>
<line x1="642.80" y1="266.48" x2="642.80" y2="269.67" stroke="#377EB8" stroke-width="1"/>
<line x1="642.80" y1="342.02" x2="642.80" y2="380.36" stroke="#377EB8" stroke-width="1"/>
<rect x="631.55" y="269.67" width="22.50" height="72.35" fill="none" stroke="#377EB8" stroke-width="1"/>
<line x1="631.55" y1="309.14" x2="654.05" y2="309.14" stroke="#377EB8" stroke-width="1.3"/>
<path d="M640.90,381.46 L644.70,381.46 L642.80,378.17 Z" fill="#377EB8" stroke="none" stroke-width="1"/>
<path d="M640.90,363.42 L644.70,363.42 L642.80,360.13 Z" fill="#377EB8" stroke="none" stroke-width="1"/>
<path d="M640.90,354.02 L644.70,354.02 L642.80,350.73 Z" fill="#377EB8" stroke="none" stroke-width="1"/>
<path d="M640.90,346.50 L644.70,346.50 L642.80,343.21 Z" fill="#377EB8" stroke="none" stroke-width="1"/>
<path d="M640.90,333.35 L644.70,333.35 L642.80,330.06 Z" fill="#377EB8" stroke="none" stroke-width="1"/>
<path d="M640.90,329.59 L644.70,329.59 L642.80,326.30 Z" fill="#377EB8" stroke="none" stroke-width="1"/>
<path d="M640.90,290.13 L644.70,290.13 L642.80,286.84 Z" fill="#377EB8" stroke="none" stroke-width="1"/>
<path d="M640.90,282.61 L644.70,282.61 L642.80,279.32 Z" fill="#377EB8" stroke="none" stroke-width="1"/>
<path d="M640.90,267.58 L644.70,267.58 L642.80,264.29 Z" fill="#377EB8" stroke="none" stroke-width="1"/>
<line x1="676.80" y1="266.48" x2="676.80" y2="287.15" stroke="#E41A1C" stroke-width="1"/>
<line x1="676.80" y1="407.98" x2="676.80" y2="453.27" stroke="#E41A1C" stroke-width="1"/>
<rect x="665.55" y="287.15" width="22.50" height="120.83" fill="none" stroke="#E41A1C" stroke-width="1"/>
<line x1="665.55" y1="351.98" x2="688.05" y2="351.98" stroke="#E41A1C" stroke-width="1.3"/>
<circle cx="676.80" cy="453.27" r="1.5" fill="#E41A1C" stroke="none" stroke-width="1"/>
<circle cx="676.80" cy="439.37" r="1.5" fill="#E41A1C" stroke="none" stroke-width="1"/>
<circle cx="676.80" cy="416.82" r="1.5" fill="#E41A1C" stroke="none" stroke-width="1"/>
<circle cx="676.80" cy="404.60" r="1.5" fill="#E41A1C" stroke="none" stroke-width="1"/>
<circle cx="676.80" cy="399.90" r="1.5" fill="#E41A1C" stroke="none" stroke-width="1"/>
<circle cx="676.80" cy="304.06" r="1.5" fill="#E41A1C" stroke="none" stroke-width="1"/>
<circle cx="676.80" cy="289.59" r="1.5" fill="#E41A1C" stroke="none" stroke-width="1"/>
<circle cx="676.80" cy="285.65" r="1.5" fill="#E41A1C" stroke="none" stroke-width="1"/>
<circle cx="676.80" cy="272.49" r="1.5" fill="#E41A1C" stroke="none" stroke-width="1"/>
<circle cx="676.80" cy="266.48" r="1.5" fill="#E41A1C" stroke="none" stroke-width="1"/>
<line x1="702.00" y1="266.48" x2="702.00" y2="266.48" stroke="#377EB8" stroke-width="1"/>
<line x1="702.00" y1="330.37" x2="702.00" y2="354.80" stroke="#377EB8" stroke-width="1"/>
<rect x="690.75" y="266.48" width="22.50" height="63.89" fill="none" stroke="#377EB8" stroke-width="1"/>
<line x1="690.75" y1="296.55" x2="713.25" y2="296.55" stroke="#377EB8" stroke-width="1.3"/>
<path d="M700.10,355.90 L703.90,355.90 L702.00,352.61 Z" fill="#377EB8" stroke="none" stroke-width="1"/>
<path d="M700.10,350.26 L703.90,350.26 L702.00,346.97 Z" fill="#377EB8" stroke="none" stroke-width="1"/>
<path d="M700.10,335.23 L703.90,335.23 L702.00,331.94 Z" fill="#377EB8" stroke="none" stroke-width="1"/>
<path d="M700.10,327.71 L703.90,327.71 L702.00,324.42 Z" fill="#377EB8" stroke="none" stroke-width="1"/>
<path d="M700.10,307.04 L703.90,307.04 L702.00,303.75 Z" fill="#377EB8" stroke="none" stroke-width="1"/>
<path d="M700.10,288.25 L703.90,288.25 L702.00,284.96 Z" fill="#377EB8" stroke="none" stroke-width="1"/>
<path d="M700.10,267.58 L703.90,267.58 L702.00,264.29 Z" fill="#377EB8" stroke="none" stroke-width="1"/>
<line x1="736.00" y1="399.90" x2="736.00" y2="408.36" stroke="#E41A1C" stroke-width="1"/>
<line x1="736.00" y1="423.58" x2="736.00" y2="438.05" stroke="#E41A1C" stroke-width="1"/>
<rect x="724.75" y="408.36" width="22.50" height="15.22" fill="none" stroke="#E41A1C" stroke-width="1"/>
<line x1="724.75" y1="416.82" x2="747.25" y2="416.82" stroke="#E41A1C" stroke-width="1.3"/>
<circle cx="736.00" cy="438.05" r="1.5" fill="#E41A1C" stroke="none" stroke-width="1"/>
<circle cx="736.00" cy="431.85" r="1.5" fill="#E41A1C" stroke="none" stroke-width="1"/>
<circle cx="736.00" cy="426.21" r="1.5" fill="#E41A1C" stroke="none" stroke-width="1"/>
<circle cx="736.00" cy="418.70" r="1.5" fill="#E41A1C" stroke="none" stroke-width="1"/>
<circle cx="736.00" cy="416.82" r="1.5" fill="#E41A1C" stroke="none" stroke-width="1"/>
<circle cx="736.00" cy="411.18" r="1.5" fill="#E41A1C" stroke="none" stroke-width="1"/>
<circle cx="736.00" cy="408.36" r="1.5" fill="#E41A1C" stroke="none" stroke-width="1"/>
<circle cx="736.00" cy="399.90" r="1.5" fill="#E41A1C" stroke="none" stroke-width="1"/>
<circle cx="736.00" cy="373.59" r="1.5" fill="#E41A1C" stroke="none" stroke-width="1"/>
<line x1="761.00" y1="307.82" x2="761.00" y2="356.68" stroke="#377EB8" stroke-width="1"/>
<line x1="761.00" y1="407.42" x2="761.00" y2="419.45" stroke="#377EB8" stroke-width="1"/>
<rect x="749.75" y="356.68" width="22.50" height="50.74" fill="none" stroke="#377EB8" stroke-width="1"/>
<line x1="749.75" y1="393.33" x2="772.25" y2="393.33" stroke="#377EB8" stroke-width="1.3"/>
<path d="M759.10,420.54 L762.90,420.54 L761.00,417.25 Z" fill="#377EB8" stroke="none" stroke-width="1"/>
<path d="M759.10,416.03 L762.90,416.03 L761.00,412.74 Z" fill="#377EB8" stroke="none" stroke-width="1"/>
<path d="M759.10,410.40 L762.90,410.40 L761.00,407.11 Z" fill="#377EB8" stroke="none" stroke-width="1"/>
<path d="M759.10,404.76 L762.90,404.76 L761.00,401.47 Z" fill="#377EB8" stroke="none" stroke-width="1"/>
<path d="M759.10,396.30 L762.90,396.30 L761.00,393.01 Z" fill="#377EB8" stroke="none" stroke-width="1"/>
<path d="M759.10,389.72 L762.90,389.72 L761.00,386.43 Z" fill="#377EB8" stroke="none" stroke-width="1"/>
<path d="M759.10,346.50 L762.90,346.50 L761.00,343.21 Z" fill="#377EB8" stroke="none" stroke-width="1"/>
<path d="M759.10,344.62 L762.90,344.62 L761.00,341.33 Z" fill="#377EB8" stroke="none" stroke-width="1"/>
<path d="M759.10,308.92 L762.90,308.92 L761.00,305.63 Z" fill="#377EB8" stroke="none" stroke-width="1"/>
<rect x="595.10" y="256.70" width="188.10" height="206.80" fill="none" stroke="#000" stroke-width="1.2"/>
<line x1="592.60" y1="454.40" x2="595.10" y2="454.40" stroke="#000" stroke-width="1"/>
<text x="591.10" y="457.60" font-size="9.2" text-anchor="end" fill="#222" stroke="#222" stroke-width="0.13">0</text>
<line x1="592.60" y1="407.42" x2="595.10" y2="407.42" stroke="#000" stroke-width="1"/>
<text x="591.10" y="410.62" font-size="9.2" text-anchor="end" fill="#222" stroke="#222" stroke-width="0.13">25</text>
<line x1="592.60" y1="360.44" x2="595.10" y2="360.44" stroke="#000" stroke-width="1"/>
<text x="591.10" y="363.64" font-size="9.2" text-anchor="end" fill="#222" stroke="#222" stroke-width="0.13">50</text>
<line x1="592.60" y1="313.46" x2="595.10" y2="313.46" stroke="#000" stroke-width="1"/>
<text x="591.10" y="316.66" font-size="9.2" text-anchor="end" fill="#222" stroke="#222" stroke-width="0.13">75</text>
<line x1="592.60" y1="266.48" x2="595.10" y2="266.48" stroke="#000" stroke-width="1"/>
<text x="591.10" y="269.68" font-size="9.2" text-anchor="end" fill="#222" stroke="#222" stroke-width="0.13">100</text>
<line x1="630.40" y1="463.50" x2="630.40" y2="466.00" stroke="#000" stroke-width="1.1"/>
<text x="630.60" y="474.80" font-size="9.2" text-anchor="middle" fill="#222" stroke="#222" stroke-width="0.13">1:1 vs 1:16</text>
<line x1="689.40" y1="463.50" x2="689.40" y2="466.00" stroke="#000" stroke-width="1.1"/>
<text x="689.30" y="474.80" font-size="9.2" text-anchor="middle" fill="#222" stroke="#222" stroke-width="0.13">1:1 vs 1:8</text>
<line x1="748.50" y1="463.50" x2="748.50" y2="466.00" stroke="#000" stroke-width="1.1"/>
<text x="746.40" y="474.80" font-size="9.2" text-anchor="middle" fill="#222" stroke="#222" stroke-width="0.13">1.5:1 vs 1:8</text>
<text x="661.30" y="487.00" font-size="11.1" text-anchor="start" fill="#000" stroke="#000" stroke-width="0.13" textLength="56.4" lengthAdjust="spacingAndGlyphs">Choice pair</text>
<text x="571.30" y="451.00" font-size="11.4" text-anchor="start" fill="#000" stroke="#000" stroke-width="0.13" transform="rotate(-90 571.3 451.0)" textLength="180.6" lengthAdjust="spacingAndGlyphs">4 hours - % of higher P:C diet in gut</text>
<path d="M649.70,258.50L649.70,264.50M647.10,260.00L652.30,263.00M652.30,260.00L647.10,263.00" stroke="#111" stroke-width="1.4" fill="none"/>
<path d="M707.70,258.20L707.70,264.20M705.10,259.70L710.30,262.70M710.30,259.70L705.10,262.70" stroke="#111" stroke-width="1.4" fill="none"/>
<path d="M736.00,326.60L736.00,332.60M733.40,328.10L738.60,331.10M738.60,328.10L733.40,331.10" stroke="#111" stroke-width="1.4" fill="none"/>
<line x1="618.30" y1="448.80" x2="640.50" y2="448.80" stroke="#1A1A1A" stroke-width="1.4"/>
<path d="M630.30,451.30L630.30,457.30M627.70,452.80L632.90,455.80M632.90,452.80L627.70,455.80" stroke="#AAAAAA" stroke-width="1.4" fill="none"/>
<line x1="730.20" y1="265.00" x2="730.20" y2="278.80" stroke="#E41A1C" stroke-width="0.9"/>
<rect x="725.20" y="267.20" width="10.20" height="9.40" fill="#fff" stroke="#E41A1C" stroke-width="0.9"/>
<line x1="725.20" y1="271.90" x2="735.40" y2="271.90" stroke="#E41A1C" stroke-width="0.9"/>
<circle cx="730.30" cy="271.90" r="1.5" fill="#E41A1C" stroke="none" stroke-width="1"/>
<text x="737.40" y="275.90" font-size="10.4" text-anchor="start" font-style="italic" fill="#111" stroke="#111" stroke-width="0.13" textLength="33.5" lengthAdjust="spacingAndGlyphs">D. suzukii</text>
<line x1="730.20" y1="281.20" x2="730.20" y2="295.00" stroke="#377EB8" stroke-width="0.9"/>
<rect x="725.20" y="283.40" width="10.20" height="9.40" fill="#fff" stroke="#377EB8" stroke-width="0.9"/>
<line x1="725.20" y1="288.10" x2="735.40" y2="288.10" stroke="#377EB8" stroke-width="0.9"/>
<path d="M728.40,289.20 L732.20,289.20 L730.30,285.91 Z" fill="#377EB8" stroke="none" stroke-width="1"/>
<text x="737.40" y="292.10" font-size="10.4" text-anchor="start" font-style="italic" fill="#111" stroke="#111" stroke-width="0.13" textLength="41.4" lengthAdjust="spacingAndGlyphs">D.biarmipes</text>
</svg>
</body></html>
